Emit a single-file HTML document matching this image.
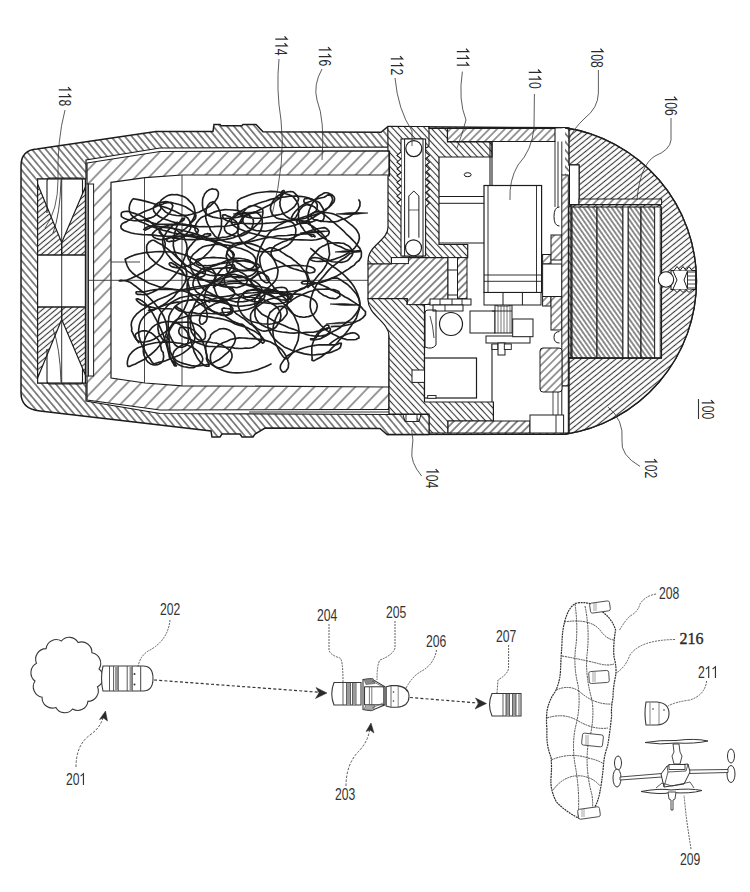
<!DOCTYPE html>
<html><head><meta charset="utf-8"><style>html,body{margin:0;padding:0;background:#fff;overflow:hidden;}svg{display:block;font-family:"Liberation Sans",sans-serif;}</style></head>
<body><svg width="750" height="892" viewBox="0 0 750 892"><defs><pattern id="hB" width="5.3" height="5.3" patternUnits="userSpaceOnUse" patternTransform="rotate(-40)"><rect width="5.3" height="5.3" fill="#fff"/><line x1="2.65" y1="0" x2="2.65" y2="5.3" stroke="#353535" stroke-width="1.15"/></pattern><pattern id="hBb" width="4.7" height="4.7" patternUnits="userSpaceOnUse" patternTransform="rotate(-43)"><rect width="4.7" height="4.7" fill="#fff"/><line x1="2.35" y1="0" x2="2.35" y2="4.7" stroke="#353535" stroke-width="1.1"/></pattern><pattern id="hBc" width="3.8" height="3.8" patternUnits="userSpaceOnUse" patternTransform="rotate(-35)"><rect width="3.8" height="3.8" fill="#fff"/><line x1="1.9" y1="0" x2="1.9" y2="3.8" stroke="#333" stroke-width="1.1"/></pattern><pattern id="hF" width="4.4" height="4.4" patternUnits="userSpaceOnUse" patternTransform="rotate(51)"><rect width="4.4" height="4.4" fill="#fff"/><line x1="2.2" y1="0" x2="2.2" y2="4.4" stroke="#383838" stroke-width="1.1"/></pattern><pattern id="hFn" width="4.3" height="4.3" patternUnits="userSpaceOnUse" patternTransform="rotate(50)"><rect width="4.3" height="4.3" fill="#fff"/><line x1="2.15" y1="0" x2="2.15" y2="4.3" stroke="#353535" stroke-width="1.1"/></pattern><pattern id="hFs" width="5.6" height="5.6" patternUnits="userSpaceOnUse" patternTransform="rotate(45)"><rect width="5.6" height="5.6" fill="#fff"/><line x1="2.8" y1="0" x2="2.8" y2="5.6" stroke="#353535" stroke-width="1.15"/></pattern><pattern id="hFw" width="9.8" height="9.8" patternUnits="userSpaceOnUse" patternTransform="rotate(44)"><rect width="9.8" height="9.8" fill="#fff"/><line x1="4.9" y1="0" x2="4.9" y2="9.8" stroke="#353535" stroke-width="1.0"/></pattern><pattern id="hFt" width="5.5" height="5.5" patternUnits="userSpaceOnUse" patternTransform="rotate(45)"><rect width="5.5" height="5.5" fill="#fff"/><line x1="2.75" y1="0" x2="2.75" y2="5.5" stroke="#3a3a3a" stroke-width="1.0"/></pattern></defs><rect width="750" height="892" fill="#fff"/><path d="M21,166 Q21,150 37,149 L156,131.5 L213,131.5 L214,124.4 L220,124.4 L221,125.8 L242,125.8 L243,124.4 L256,124.4 L263,131.8 L381,132.3 L388,126.5 L565,127.8 A155,155 0 0 1 565,434.2 L387,434.5 L380,428.5 L265,428 L255,434 L253,437 L242,437 L240,434 L222,434 L220,437 L212,437 L211,431 L40,411 Q21,409 21,393 Z" fill="url(#hB)" stroke="#1c1c1c" stroke-width="1.5" />
<path d="M37.6,179 L86,179 L86,160 L160,148 L390,147 L390,414.5 L160,413.5 L86,401 L86,383 L37.6,383 Z" fill="#fff" stroke="#1c1c1c" stroke-width="1.2" />
<path d="M87,163 L160,151.5 L389,150.8 L389,409.4 L160,410 L87,400 Z" fill="url(#hFw)" stroke="#1c1c1c" stroke-width="1.2" />
<line x1="249" y1="412" x2="389" y2="412" stroke="#1c1c1c" stroke-width="0.9" />
<path d="M111,182.3 L145,177.7 L182,175 L389,175 L389,387 L182,385.8 L145,383 L111,378 Z" fill="#fff" stroke="#1c1c1c" stroke-width="1.2" />
<rect x="85.4" y="184" width="3" height="192" fill="#8c8c8c" stroke="#1c1c1c" stroke-width="0.8" />
<rect x="88.4" y="184" width="5.2" height="192" fill="#fff" stroke="#1c1c1c" stroke-width="1" />
<rect x="37.6" y="179" width="47.8" height="204" fill="#fff" stroke="#1c1c1c" stroke-width="1.2" />
<path d="M37.6,184 L61.7,242.5 L61.7,255 L37.6,255 Z" fill="url(#hFn)" stroke="#1c1c1c" stroke-width="1.2" />
<path d="M85.4,187 L61.7,242.5 L61.7,255 L85.4,255 Z" fill="url(#hFn)" stroke="#1c1c1c" stroke-width="1.2" />
<path d="M37.6,378 L61.7,319.5 L61.7,307 L37.6,307 Z" fill="url(#hFn)" stroke="#1c1c1c" stroke-width="1.2" />
<path d="M85.4,375 L61.7,319.5 L61.7,307 L85.4,307 Z" fill="url(#hFn)" stroke="#1c1c1c" stroke-width="1.2" />
<path d="M47,213 L47,181 Q47,178 50,178 L81,178 Q82.5,178 82.5,182 L82.5,194" fill="none" stroke="#1c1c1c" stroke-width="1.1" />
<path d="M47,349 L47,381 Q47,384 50,384 L81,384 Q82.5,384 82.5,380 L82.5,368" fill="none" stroke="#1c1c1c" stroke-width="1.1" />
<path d="M61,180 Q60,215 53,233" fill="none" stroke="#1c1c1c" stroke-width="0.8" />
<path d="M61,382 Q60,347 53,329" fill="none" stroke="#1c1c1c" stroke-width="0.8" />
<line x1="61.7" y1="179" x2="61.7" y2="383" stroke="#1c1c1c" stroke-width="0.9" />
<line x1="37.6" y1="255" x2="85.4" y2="255" stroke="#1c1c1c" stroke-width="1.2" />
<line x1="37.6" y1="307" x2="85.4" y2="307" stroke="#1c1c1c" stroke-width="1.2" />
<line x1="144.5" y1="177.8" x2="144.5" y2="383" stroke="#333" stroke-width="0.9" />
<line x1="182" y1="175" x2="182" y2="385.8" stroke="#333" stroke-width="0.9" />
<line x1="89" y1="280.3" x2="370" y2="280.3" stroke="#333" stroke-width="0.9" />
<line x1="111" y1="262" x2="140" y2="262" stroke="#333" stroke-width="0.9" />
<path d="M147.8,310.3 L149.7,310.6 L151.3,309.9 L153.5,309.9 L155.4,309.0 L157.4,308.1 L159.4,306.9 L161.5,305.8 L163.4,304.8 L165.7,303.3 L167.9,301.4 L170.0,299.7 L172.1,298.3 L174.2,296.4 L176.3,293.6 L178.0,291.8 L179.7,289.8 L181.6,288.3 L183.3,285.3 L185.1,282.3 L186.3,277.9 L186.8,274.5 L186.1,270.0 L184.4,265.0 L181.4,261.6 L177.9,258.3 L174.2,254.6 L170.5,251.4 L166.9,248.4 L162.8,245.3 L158.4,243.0 L154.3,240.5 L153.5,240.2 L152.9,240.2 L152.4,240.2 L151.6,240.5 L150.8,240.9 L150.3,241.1 L149.9,241.7 L148.6,242.3 L148.2,243.2 L147.3,244.4 L146.7,246.0 L146.6,247.1 L146.7,249.4 L146.8,252.1 L148.0,254.4 L149.8,257.5 L153.5,260.9 L156.5,263.6 L160.5,266.1 L165.0,268.5 L169.6,270.0 L173.8,271.5 L178.8,273.4 L183.4,274.9 L188.3,276.5 L193.4,277.6 L198.2,278.9 L203.1,280.0 L207.7,280.6 L212.7,280.9 L217.3,281.8 L222.1,282.2 L227.1,282.0 L232.2,281.4 L236.7,281.4 L241.3,280.6 L245.0,280.4 L248.7,279.8 L252.3,278.2 L254.9,276.5 L257.1,273.9 L257.8,272.0 L257.6,269.8 L257.6,268.7 L256.5,267.2 L255.3,265.4 L254.4,264.1 L253.4,263.6 L252.3,262.6 L250.8,261.5 L249.3,260.5 L247.9,259.9 L246.1,259.5 L244.5,259.0 L242.6,258.8 L241.0,258.5 L238.9,258.2 L237.2,258.3 L235.4,258.4 L234.0,258.5 L232.1,259.1 L229.9,260.4 L228.4,261.3 L227.3,263.2 L226.4,265.1 L226.4,268.4 L227.3,271.6 L229.7,274.3 L232.6,277.2 L235.4,278.6 L238.5,281.4 L242.2,283.2 L245.9,284.8 L249.6,285.9 L253.1,287.0 L256.7,288.0 L260.0,289.2 L263.9,290.5 L267.7,290.6 L271.2,291.4 L274.7,291.4 L278.1,291.7 L281.7,291.7 L285.0,292.1 L288.8,291.5 L291.8,291.5 L295.6,290.8 L298.6,290.4 L301.1,289.4 L304.7,287.9 L306.9,285.9 L307.9,282.9 L307.7,280.3 L307.2,276.7 L306.2,274.2 L304.9,271.6 L303.3,269.8 L301.5,267.5 L299.8,265.0 L297.7,263.3 L295.9,261.6 L294.0,260.3 L291.8,258.3 L289.7,257.0 L287.6,256.0 L285.6,254.7 L283.7,253.4 L281.6,252.1 L279.7,250.5 L277.4,249.7 L275.6,249.0 L273.8,248.4 L272.0,247.7 L269.3,247.9 L265.2,250.1 L262.5,252.8 L259.9,257.2 L259.8,261.0 L260.4,265.0 L261.4,268.3 L263.1,271.2 L264.2,273.7 L265.6,276.2 L266.8,278.5 L268.2,280.7 L270.0,282.7 L271.3,284.6 L273.0,286.2 L274.4,288.2 L276.0,290.0 L277.7,291.4 L278.9,293.4 L280.8,294.9 L282.4,296.2 L284.2,297.7 L285.6,298.9 L287.0,299.8 L288.0,301.4 L289.6,301.9 L291.4,300.9 L291.0,300.1 L290.4,299.0 L288.6,296.5 L285.3,295.0 L281.6,293.9 L278.5,293.2 L274.6,293.2 L270.5,292.9 L266.2,292.4 L261.9,292.2 L257.5,292.4 L253.0,292.8 L248.1,293.0 L243.4,293.5 L238.9,294.2 L234.5,294.7 L229.5,295.9 L225.2,296.5 L220.7,297.1 L216.4,298.0 L211.9,299.5 L207.4,300.7 L203.3,303.1 L199.1,304.5 L194.8,307.1 L191.4,310.5 L189.2,314.0 L188.0,318.2 L188.1,322.6 L188.0,325.5 L188.2,328.2 L188.3,331.7 L189.0,335.2 L190.1,338.0 L190.8,340.8 L191.6,343.6 L192.6,345.9 L193.4,348.5 L194.0,351.5 L195.3,354.0 L196.5,356.4 L197.6,358.6 L199.2,360.6 L200.5,362.3 L201.9,363.3 L203.6,364.8 L204.8,365.8 L206.4,366.1 L208.0,366.2 L209.0,366.1 L208.9,365.0 L208.3,362.7 L207.3,361.3 L206.5,359.1 L206.7,355.9 L206.3,352.7 L205.7,350.2 L204.9,347.2 L204.0,344.9 L202.9,342.2 L201.8,340.0 L200.6,337.9 L199.3,336.2 L198.1,334.9 L196.4,333.2 L195.3,331.8 L193.8,330.4 L192.1,329.4 L190.5,328.7 L188.9,327.7 L187.1,327.8 L185.3,327.4 L183.9,327.2 L181.8,327.4 L180.3,327.2 L179.5,328.7 L178.7,330.8 L179.2,333.5 L181.0,335.7 L184.1,337.4 L187.4,338.4 L190.8,339.4 L194.1,341.2 L197.7,343.0 L201.3,344.2 L204.9,345.6 L208.8,346.5 L212.8,346.5 L216.6,346.7 L220.4,346.8 L224.4,347.2 L228.0,347.2 L231.5,347.4 L234.7,348.1 L238.4,348.4 L242.3,348.5 L245.7,348.0 L249.1,348.3 L252.5,347.5 L255.8,345.6 L259.2,343.2 L261.1,340.9 L261.4,338.2 L260.3,334.7 L259.2,332.5 L257.4,330.7 L255.8,328.5 L254.1,326.8 L252.2,324.9 L250.0,323.9 L248.0,322.0 L246.0,320.3 L244.3,318.9 L242.5,317.7 L240.6,316.6 L238.6,315.1 L236.3,313.8 L234.9,312.3 L233.3,311.1 L231.3,310.0 L229.5,308.7 L227.1,308.5 L225.2,308.2 L223.8,307.9 L222.0,309.0 L222.4,311.5 L224.0,314.5 L226.3,316.9 L229.1,318.8 L232.4,320.9 L235.9,322.4 L239.2,323.7 L242.5,324.4 L244.7,326.1 L246.0,328.4 L247.3,330.1 L248.9,331.4 L250.1,333.2 L252.1,334.4 L253.8,336.2 L255.3,337.7 L257.1,339.1 L258.6,340.1 L260.0,341.4 L261.5,342.0 L262.5,343.1 L263.7,342.7 L264.6,340.6 L263.1,338.5 L260.8,335.8 L257.6,333.4 L254.1,330.9 L250.2,329.2 L247.0,327.6 L243.2,326.4 L238.9,325.3 L235.1,323.9 L231.5,322.1 L227.5,320.5 L223.4,319.2 L219.1,318.4 L214.5,317.8 L210.0,316.9 L205.0,316.4 L200.6,315.4 L196.4,315.2 L191.7,315.8 L186.2,316.5 L180.9,318.2 L176.6,319.5 L173.1,322.6 L171.0,326.4 L169.7,329.3 L168.9,332.4 L169.0,335.8 L169.1,338.8 L169.1,341.5 L169.3,344.1 L169.5,346.5 L169.9,348.9 L169.7,351.2 L169.7,353.5 L170.0,355.7 L170.2,357.6 L171.0,359.1 L171.7,360.8 L172.5,362.3 L173.5,363.7 L174.2,365.4 L174.8,365.9 L175.9,366.0 L176.5,365.7 L176.0,365.0 L174.4,362.5 L171.7,360.2 L169.5,357.6 L168.5,352.7 L167.4,348.2 L166.0,343.3 L164.7,339.0 L163.3,334.9 L161.4,330.4 L159.7,326.7 L157.9,322.9 L156.2,319.7 L154.5,316.6 L152.9,313.6 L151.1,310.9 L149.1,308.1 L147.1,305.6 L145.1,303.2 L142.6,301.3 L140.6,300.1 L138.1,298.9 L137.1,298.8 L136.1,299.2 L137.1,300.9 L138.6,302.1 L140.4,303.5 L142.3,304.7 L144.7,305.4 L147.6,306.6 L150.1,306.9 L153.2,307.6 L156.2,308.3 L159.3,308.4 L162.4,308.8 L165.6,308.7 L168.6,308.7 L172.0,309.0 L172.0,309.0" fill="none" stroke="#1e1e1e" stroke-width="1.65" stroke-linejoin="round"/>
<path d="M309.8,221.2 L305.0,221.3 L300.1,221.0 L294.7,219.8 L290.1,218.8 L286.3,216.5 L283.3,213.8 L281.8,210.7 L280.8,208.0 L280.0,205.7 L280.1,203.9 L279.8,202.0 L280.3,200.7 L280.5,199.2 L280.6,197.5 L280.7,196.2 L280.7,195.0 L281.3,193.6 L281.8,192.5 L281.7,191.6 L282.3,191.4 L282.6,190.8 L283.7,190.5 L284.2,190.9 L284.1,192.7 L282.5,195.0 L280.3,197.6 L276.8,200.0 L273.1,202.9 L269.0,205.2 L264.8,207.2 L260.4,209.4 L256.3,211.5 L251.8,213.1 L247.0,214.5 L242.5,216.1 L238.1,217.1 L233.0,217.9 L228.2,218.3 L223.6,218.6 L218.1,218.0 L213.0,217.1 L208.2,215.4 L205.1,212.3 L203.0,209.3 L202.5,205.1 L202.5,202.4 L202.6,199.9 L203.0,197.8 L203.9,196.0 L204.6,194.0 L205.7,192.7 L207.0,191.2 L208.3,190.4 L209.4,189.6 L210.9,189.2 L212.2,188.7 L213.8,189.2 L215.7,189.3 L217.0,190.2 L218.3,192.1 L218.4,194.6 L217.5,197.8 L215.2,201.1 L212.4,203.8 L209.5,206.6 L206.1,208.4 L202.6,210.2 L199.3,212.0 L195.3,213.2 L191.6,214.2 L187.8,215.1 L183.9,215.4 L180.0,215.8 L176.5,215.5 L172.1,214.7 L168.7,213.7 L165.4,211.9 L162.9,209.3 L160.5,206.6 L159.4,204.4 L160.2,201.9 L161.2,200.2 L163.1,198.7 L164.7,197.4 L166.8,196.1 L169.4,195.1 L171.9,194.5 L174.2,194.8 L177.0,194.6 L179.3,195.2 L182.3,196.1 L185.0,197.2 L187.6,199.1 L189.7,201.4 L192.3,203.8 L193.8,206.4 L194.6,209.4 L195.1,212.9 L194.3,216.7 L192.8,219.8 L190.9,222.6 L188.0,226.3 L185.4,228.6 L182.6,230.6 L179.8,232.9 L177.1,234.6 L174.1,236.1 L171.0,237.3 L168.0,238.1 L165.2,239.1 L162.4,239.7 L159.2,239.4 L156.1,238.5 L154.0,237.5 L152.9,236.4 L152.1,234.8 L152.6,233.4 L153.9,232.1 L155.3,230.7 L157.0,229.5 L158.9,228.3 L160.8,227.5 L162.9,226.9 L165.3,226.7 L168.2,227.0 L171.0,227.6 L173.9,228.7 L176.9,230.3 L179.2,232.2 L181.9,234.4 L183.9,236.9 L185.2,240.6 L186.5,243.8 L187.1,248.1 L186.3,252.7 L184.8,257.1 L182.9,261.6 L181.0,265.8 L178.8,269.9 L176.1,273.6 L173.2,276.9 L170.0,280.2 L166.7,283.2 L163.6,286.1 L159.8,288.6 L156.0,290.6 L152.4,292.3 L149.3,293.6 L145.9,294.5 L143.1,294.7 L140.1,294.2 L137.9,294.4 L136.3,293.7 L136.0,292.5 L136.3,291.8 L136.6,291.7 L138.3,291.7 L140.0,291.5 L141.4,292.0 L144.2,291.9 L148.7,290.7 L154.0,289.8 L159.1,289.3 L164.3,289.4 L169.7,289.3 L174.4,289.6 L179.6,290.2 L185.2,291.5 L189.9,293.3 L195.0,295.7 L198.6,298.3 L201.8,301.4 L204.0,304.5 L205.1,308.1 L206.4,310.8 L207.0,313.4 L207.2,316.3 L207.0,318.3 L206.8,319.3 L206.5,320.2 L206.0,321.3 L205.0,322.3 L204.1,322.9 L203.2,323.8 L202.5,324.1 L201.8,324.2 L200.7,324.0 L200.1,323.2 L199.8,321.9 L199.4,320.2 L199.9,317.6 L200.3,315.4 L202.1,312.7 L204.6,310.4 L207.7,307.6 L211.2,305.7 L215.4,303.4 L219.8,302.1 L224.3,300.9 L228.7,299.6 L232.8,298.7 L237.0,298.1 L241.0,297.5 L245.1,297.0 L250.0,297.3 L254.6,297.7 L258.8,298.3 L263.3,299.4 L267.1,300.9 L270.7,303.1 L274.2,305.1 L277.3,307.3 L279.2,310.4 L280.5,313.1 L280.9,316.0 L280.4,318.5 L279.6,321.0 L278.6,323.2 L277.3,325.0 L276.0,327.0 L274.1,328.5 L272.4,329.5 L270.6,330.1 L268.4,330.4 L266.2,330.9 L263.9,331.1 L262.0,330.7 L260.1,330.0 L258.3,329.2 L256.4,327.8 L254.8,326.3 L252.9,324.9 L251.5,323.1 L250.7,320.4 L250.5,317.0 L250.7,314.1 L252.6,310.9 L255.3,307.8 L258.1,306.1 L261.2,303.9 L264.1,301.8 L267.8,299.8 L271.2,298.8 L274.8,297.9 L278.0,296.9 L281.4,296.1 L285.1,295.5 L288.6,294.9 L292.3,294.2 L296.3,294.0 L300.3,294.3 L303.9,295.5 L307.3,296.6 L310.2,297.7 L312.9,299.0 L315.4,301.1 L316.8,303.6 L317.3,306.3 L316.7,308.7 L316.3,310.4 L315.2,312.3 L313.5,314.4 L312.4,315.3 L310.5,315.9 L308.5,316.6 L306.8,316.8 L305.1,317.1 L302.8,317.2 L301.1,316.8 L299.4,316.8 L297.7,316.3 L295.6,315.4 L293.6,314.2 L291.5,312.5 L290.1,310.9 L287.9,308.6 L287.0,306.0 L287.2,302.8 L287.9,299.4 L290.4,296.9 L292.7,294.3 L296.2,291.7 L300.1,289.1 L303.9,287.7 L307.9,286.1 L312.1,284.6 L316.2,283.3 L320.7,282.1 L324.9,280.6 L329.0,279.3 L333.3,277.9 L337.2,278.1 L340.8,279.9 L344.1,282.2 L347.6,284.5 L350.5,287.3 L353.3,290.5 L356.4,294.0 L358.8,298.6 L359.8,303.4 L359.5,308.4 L357.8,313.4 L356.3,318.3 L353.4,322.4 L350.9,326.2 L348.3,329.9 L345.9,333.0 L342.9,336.5 L340.0,339.3 L337.4,342.6 L334.5,345.7 L331.8,348.1 L329.3,351.1 L326.2,352.9 L323.5,355.0 L321.0,357.1 L318.7,358.3 L316.1,359.6 L314.3,360.6 L312.8,360.6 L311.8,360.0 L312.2,358.7 L311.8,353.9 L311.8,349.8 L311.9,346.2 L312.7,343.5 L313.6,341.0 L314.6,338.5 L315.7,336.1 L317.1,334.0 L318.8,331.9 L320.2,329.9 L321.9,329.0 L323.3,327.8 L324.2,326.7 L325.5,325.6 L326.6,325.1 L327.7,325.0 L328.4,325.4 L328.9,325.8 L328.9,327.2 L327.4,329.1 L324.1,329.8 L320.5,330.7 L317.1,331.4 L313.4,332.2 L310.0,332.3 L306.2,332.4 L302.1,332.7 L298.1,332.7 L294.1,333.1 L290.0,333.0 L286.1,332.4 L282.0,332.0 L277.5,331.2 L273.9,330.3 L269.9,328.2 L266.3,327.2 L262.9,325.6 L259.2,323.3 L256.7,320.1 L255.1,316.1 L254.9,311.7 L255.2,308.4 L256.4,305.3 L257.8,302.8 L259.3,300.2 L260.8,297.6 L262.2,296.2 L264.6,294.5 L266.4,292.8 L268.3,291.4 L270.9,290.4 L273.0,289.5 L274.8,288.4 L277.0,287.8 L279.3,287.5 L281.7,287.2 L283.8,287.5 L285.8,288.3 L286.9,289.6 L287.6,291.6 L287.0,294.5 L286.3,295.5" fill="none" stroke="#1e1e1e" stroke-width="1.65" stroke-linejoin="round"/>
<path d="M165.9,336.5 L167.8,338.2 L169.2,339.9 L169.4,340.7 L169.1,341.8 L168.3,342.5 L167.2,342.6 L166.4,341.8 L164.9,341.3 L163.8,340.5 L162.9,339.5 L161.9,338.4 L161.0,336.7 L160.0,335.2 L158.8,333.3 L158.4,330.8 L157.9,328.7 L158.1,325.4 L158.2,322.5 L158.7,318.8 L159.8,315.1 L162.1,311.8 L164.9,308.7 L167.9,305.3 L171.0,302.6 L175.1,300.2 L180.1,297.8 L184.5,296.8 L189.5,296.0 L194.0,295.3 L198.4,294.5 L202.6,295.0 L207.1,294.7 L211.0,295.6 L214.6,296.5 L217.9,297.5 L220.8,298.2 L223.7,299.7 L226.7,301.6 L229.0,304.1 L230.3,306.2 L231.1,308.9 L230.9,311.0 L230.4,312.3 L229.1,313.5 L227.2,314.8 L225.3,315.4 L223.5,315.5 L221.7,315.1 L219.9,314.7 L218.1,313.9 L216.2,313.4 L214.2,312.2 L212.3,311.2 L210.2,309.1 L208.7,307.8 L207.3,306.1 L205.9,304.5 L204.7,301.4 L204.2,298.5 L204.5,295.4 L205.7,291.8 L207.3,288.4 L209.7,285.4 L212.5,283.1 L216.2,280.8 L219.3,279.5 L223.1,278.1 L226.9,277.2 L230.5,276.5 L233.9,276.7 L237.3,276.7 L241.1,277.0 L244.5,277.5 L247.9,278.8 L251.1,279.7 L254.5,281.3 L257.3,283.1 L259.7,285.2 L261.6,288.2 L261.4,289.9 L260.7,292.7 L259.0,294.9 L257.1,297.2 L254.5,298.9 L251.0,300.1 L246.6,301.1 L243.2,301.6 L239.4,301.8 L235.2,301.8 L231.5,300.7 L227.9,299.6 L224.1,298.7 L220.7,297.2 L217.1,296.3 L213.2,294.7 L209.5,292.7 L206.2,291.2 L202.8,288.5 L200.2,285.4 L198.7,282.5 L197.8,279.7 L197.5,276.9 L198.1,274.3 L198.7,272.1 L200.0,270.8 L201.7,269.2 L203.3,268.0 L204.5,267.9 L206.0,267.7 L207.5,267.7 L208.9,268.0 L210.4,268.7 L211.6,269.1 L212.6,269.9 L213.4,270.8 L214.6,272.4 L215.3,274.1 L215.4,276.0 L214.6,278.7 L212.8,281.4 L210.3,283.8 L207.0,285.9 L202.6,287.5 L197.7,288.5 L193.1,289.3 L188.3,290.0 L183.3,290.0 L178.1,289.7 L173.3,289.3 L168.2,288.6 L163.3,288.0 L158.4,286.6 L153.5,284.8 L149.0,283.2 L144.7,280.8 L140.3,278.3 L136.2,276.0 L132.5,273.0 L129.3,269.6 L127.2,265.8 L125.9,262.1 L125.1,259.3 L129.9,256.7 L134.6,254.9 L139.6,253.7 L145.2,252.6 L150.5,252.2 L155.4,251.8 L160.4,251.6 L165.7,251.7 L170.9,252.0 L175.5,252.4 L179.6,253.4 L184.1,254.7 L188.3,256.2 L192.4,258.5 L196.1,260.5 L199.5,263.3 L203.0,266.2 L204.7,268.3 L205.2,270.4 L205.3,272.5 L205.0,274.2 L204.7,275.1 L203.6,276.0 L201.6,276.9 L199.9,277.3 L198.6,277.2 L197.3,276.7 L196.1,275.5 L194.5,274.7 L193.7,273.5 L192.7,272.1 L191.5,270.1 L190.8,267.8 L190.5,265.4 L190.3,262.9 L190.1,259.8 L191.3,256.9 L193.5,254.1 L196.6,251.7 L199.3,249.1 L203.0,246.8 L206.7,245.7 L210.7,245.1 L214.7,244.4 L218.4,244.2 L222.2,244.5 L226.2,245.1 L230.1,245.6 L234.0,246.5 L237.4,247.7 L241.1,248.5 L244.0,249.7 L247.3,251.0 L250.1,252.6 L252.9,254.7 L255.1,257.7 L255.9,260.6 L255.5,262.9 L254.5,265.4 L253.4,267.0 L252.1,268.1 L250.1,269.0 L247.8,270.1 L245.2,270.7 L242.9,270.6 L240.6,270.3 L238.3,269.7 L236.2,268.5 L234.3,267.9 L232.4,266.5 L230.9,264.8 L229.0,263.0 L227.5,260.5 L227.1,258.6 L226.1,256.2 L226.8,253.3 L227.8,250.2 L229.3,247.1 L232.5,244.9 L236.0,243.2 L239.0,242.5 L241.8,242.2 L245.1,242.7 L248.0,243.3 L251.4,243.9 L254.7,244.9 L258.1,246.1 L261.2,248.0 L264.1,250.0 L266.7,252.0 L269.4,254.4 L272.0,257.1 L274.1,260.1 L275.8,263.4 L277.0,266.8 L278.1,270.2 L277.6,274.1 L276.9,277.6 L275.3,280.7 L273.0,283.4 L270.5,285.7 L268.2,287.8 L265.5,289.6 L263.4,291.4 L261.2,292.9 L258.9,294.0 L256.6,294.6 L254.1,295.1 L251.7,295.5 L249.7,296.2 L247.5,296.8 L245.5,296.7 L243.8,296.2 L243.3,295.4 L243.3,293.7 L243.7,292.6 L245.5,291.9 L247.8,291.0 L250.4,290.5 L253.6,290.0 L256.6,290.2 L259.9,290.5 L263.4,291.5 L267.1,292.7 L270.7,294.7 L274.0,296.6 L277.8,298.9 L281.2,301.6 L284.4,304.3 L288.0,307.2 L291.3,311.2 L293.9,315.2 L295.8,319.5 L298.1,324.8 L298.9,330.2 L298.8,334.8 L298.2,339.9 L296.6,344.1 L295.0,347.4 L293.6,350.9 L291.8,353.8 L289.6,356.3 L287.5,358.7 L285.4,358.6 L283.3,356.8 L281.5,354.4 L280.0,352.2 L278.5,349.5 L277.0,346.2 L275.4,343.3 L274.4,339.8 L273.3,336.0 L272.9,331.7 L273.2,326.8 L274.3,322.1 L276.1,317.5 L278.4,312.9 L281.7,308.8 L285.7,305.4 L289.3,302.0 L293.1,299.4 L296.7,297.1 L300.8,295.3 L304.8,293.4 L308.9,291.7 L312.7,290.8 L316.6,289.4 L320.5,289.2 L324.3,289.3 L327.4,288.9 L330.7,289.4 L333.7,289.6 L336.5,290.6 L338.8,291.6 L339.5,293.0 L339.9,295.1 L339.9,296.2 L338.9,296.8 L337.9,297.5 L336.5,298.5 L334.8,298.7 L332.6,298.4 L330.6,298.3 L328.4,297.4 L326.2,296.3 L323.8,295.5 L321.5,293.9 L319.5,292.6 L317.6,290.5 L315.4,288.7 L313.5,287.0 L311.3,283.8 L309.4,280.6 L308.3,277.2 L307.1,273.7 L306.3,270.1 L307.0,266.3 L308.1,262.6 L309.6,258.9 L312.1,255.8 L315.1,252.9 L317.0,250.6 L319.5,248.1 L322.0,246.6 L324.6,245.5 L327.2,244.0 L330.4,243.3 L333.1,243.0 L336.0,242.8 L338.9,242.9 L341.3,243.2 L343.6,243.2 L345.6,244.5 L347.7,245.5 L349.4,246.6 L351.3,249.0 L352.4,251.6 L352.7,253.8 L351.8,255.9 L350.6,257.3 L349.1,259.1 L347.2,260.8 L344.4,261.7 L341.6,262.4 L338.6,262.3 L335.6,262.0 L332.2,261.7 L329.0,260.6 L325.9,259.1 L322.9,258.0 L320.2,256.2 L317.1,253.8 L314.3,251.5 L311.5,249.1 L310.2,248.3" fill="none" stroke="#1e1e1e" stroke-width="1.65" stroke-linejoin="round"/>
<path d="M271.6,363.6 L268.5,365.3 L265.2,366.8 L261.9,368.1 L258.0,369.6 L253.9,370.8 L250.0,371.7 L245.6,372.3 L241.1,372.8 L237.1,372.9 L232.6,372.7 L228.5,372.1 L224.3,371.0 L221.1,369.7 L217.2,368.1 L214.3,366.0 L210.8,363.3 L208.9,360.6 L207.3,358.7 L206.8,355.1 L206.0,352.4 L205.6,349.4 L205.9,346.5 L206.1,343.9 L207.5,341.5 L209.1,339.0 L210.2,337.3 L210.6,335.1 L212.1,333.5 L214.0,332.1 L216.0,331.1 L217.7,330.1 L219.2,329.1 L221.5,328.7 L223.5,328.6 L225.7,328.9 L228.3,329.8 L230.8,331.1 L233.0,332.8 L234.3,334.5 L235.0,336.8 L235.5,339.3 L234.7,342.4 L233.5,344.8 L231.8,347.1 L229.7,350.4 L227.6,352.7 L224.9,354.9 L222.3,357.1 L219.3,359.5 L215.9,361.3 L212.8,363.0 L209.1,364.2 L205.6,364.9 L202.0,365.4 L198.6,366.0 L195.1,366.1 L191.3,365.6 L187.3,364.5 L183.8,363.6 L179.8,362.3 L176.1,360.4 L173.8,357.7 L171.5,354.2 L169.9,350.8 L168.1,347.8 L167.3,344.9 L166.7,342.1 L167.0,339.8 L167.6,336.9 L167.9,334.8 L168.6,332.6 L169.5,330.4 L170.6,328.6 L171.5,327.1 L172.6,325.6 L173.5,324.1 L174.8,323.3 L176.6,322.5 L178.1,322.4 L180.7,322.4 L184.0,322.2 L187.4,322.1 L190.3,322.6 L193.8,323.3 L197.4,324.7 L199.8,326.2 L201.9,328.3 L203.6,329.8 L204.9,331.8 L205.4,334.0 L205.4,335.5 L205.4,336.6 L205.0,337.8 L204.5,338.9 L203.4,339.5 L202.3,340.3 L200.9,340.1 L198.8,340.0 L196.9,338.9 L195.8,337.7 L194.1,336.0 L192.7,333.7 L191.3,331.7 L190.8,328.3 L190.4,325.0 L190.4,321.6 L190.7,317.6 L191.6,313.4 L192.9,308.9 L194.5,304.5 L197.0,300.1 L199.8,295.8 L202.7,291.8 L206.3,287.6 L210.0,284.4 L214.3,281.7 L218.1,278.9 L222.5,276.1 L227.3,274.0 L231.5,272.4 L236.1,271.2 L240.4,270.5 L244.7,270.3 L249.2,270.3 L252.8,270.6 L256.4,271.0 L259.5,271.7 L262.5,273.1 L264.3,274.3 L266.5,275.7 L267.8,276.6 L268.4,277.6 L269.0,279.1 L269.1,280.5 L268.6,282.1 L268.2,282.5 L267.5,282.7 L266.5,282.8 L265.1,282.3 L263.8,281.3 L262.3,280.3 L260.6,278.6 L260.0,276.8 L258.6,274.3 L257.3,271.2 L256.5,267.3 L256.4,264.0 L256.9,260.0 L257.6,256.5 L258.8,252.3 L260.3,247.8 L262.5,243.5 L264.5,239.5 L267.2,235.7 L270.0,232.1 L273.1,229.4 L276.6,226.6 L280.2,224.4 L284.1,222.4 L286.7,221.4 L288.4,221.3 L290.1,221.6 L291.9,222.3 L293.3,223.2 L294.3,224.6 L294.9,226.8 L295.8,228.8 L295.8,231.3 L295.5,233.9 L294.9,236.1 L293.8,238.7 L291.9,241.4 L289.5,243.8 L286.9,245.8 L283.7,247.5 L280.2,249.2 L276.6,250.5 L273.0,251.0 L269.4,251.7 L265.7,251.6 L262.0,251.6 L258.3,251.2 L254.6,250.2 L250.7,248.3 L247.1,246.3 L244.4,243.9 L242.0,241.5 L239.9,238.4 L238.5,235.6 L237.9,232.4 L237.7,229.2 L238.1,225.9 L239.3,223.0 L240.5,220.8 L242.1,218.6 L244.3,217.0 L246.6,215.6 L248.7,214.4 L250.3,213.3 L252.0,212.7 L254.1,212.4 L256.6,212.8 L258.2,213.6 L260.0,215.1 L261.2,217.3 L262.1,219.4 L262.2,222.3 L262.3,224.9 L261.6,227.9 L260.5,230.9 L258.7,233.7 L256.5,235.9 L254.1,237.7 L251.7,238.9 L248.4,240.7 L245.3,242.1 L241.5,243.1 L237.1,243.3 L233.2,243.2 L229.7,242.4 L225.7,241.7 L221.8,240.4 L218.0,238.4 L215.2,236.4 L212.7,233.1 L210.5,230.3 L209.5,227.0 L207.7,224.1 L206.6,221.4 L205.8,218.3 L205.6,215.0 L205.9,212.2 L206.3,209.3 L206.9,207.1 L207.8,205.5 L209.0,204.0 L210.1,202.8 L211.9,202.2 L213.0,201.7 L214.7,202.7 L216.9,205.4 L218.5,208.5 L220.2,212.1 L220.6,216.4 L221.6,220.4 L221.4,224.3 L221.3,228.6 L219.6,233.5 L218.2,237.3 L216.2,242.0 L213.6,246.1 L210.5,250.2 L207.2,253.7 L203.9,256.8 L199.9,260.1 L195.7,262.6 L192.2,264.3 L188.0,265.8 L183.9,266.8 L180.5,267.5 L177.6,267.9 L174.7,267.4 L172.5,266.9 L170.7,266.1 L169.9,265.1 L169.3,264.4 L169.2,263.6 L169.5,263.3 L170.2,262.7 L171.3,262.8 L172.7,263.5 L174.3,264.5 L176.4,265.6 L177.9,267.0 L179.6,268.8 L181.9,270.8 L183.6,273.5 L185.8,276.3 L187.1,279.7 L188.3,283.6 L189.3,287.8 L188.8,292.5 L188.3,297.6 L187.4,302.1 L185.3,306.6 L183.2,311.5 L180.6,315.0 L177.8,319.0 L174.9,322.6 L171.8,325.6 L168.5,329.1 L165.2,332.1 L161.2,334.6 L157.4,337.0 L153.9,339.2 L149.7,340.9 L146.1,341.8 L142.8,342.2 L139.7,341.8 L137.3,340.4 L135.8,338.6 L135.8,337.0 L135.1,335.5 L135.6,334.2 L137.2,333.0 L138.1,332.4 L139.5,331.9 L141.1,331.2 L142.4,330.8 L144.4,330.8 L146.4,330.9 L148.8,331.9 L150.9,332.8 L152.8,334.1 L154.4,335.6 L156.6,337.7 L158.5,340.1 L160.0,343.0 L160.9,347.0 L161.4,350.2 L163.2,352.5 L163.4,354.8 L163.7,356.4 L163.4,358.5 L163.1,360.3 L162.0,361.9 L160.8,363.3 L159.2,364.0 L157.5,364.6 L155.7,364.9 L153.9,365.0 L152.1,364.4 L150.2,363.7 L148.1,362.1 L146.5,360.3 L145.3,357.6 L143.9,355.1 L143.3,351.6 L143.4,347.9 L143.4,344.8 L144.5,340.7 L145.5,337.5 L147.2,334.1 L149.4,330.7 L151.9,327.7 L154.8,325.4 L157.7,323.6 L161.1,322.6 L164.5,322.0 L168.0,321.4 L171.4,321.7 L174.5,322.2 L177.2,323.2 L179.9,324.6 L182.5,326.3 L184.3,328.9 L186.5,331.1 L187.8,333.4 L188.2,336.2 L188.7,338.4 L188.3,340.8 L187.8,342.9 L186.8,345.0 L184.9,346.3 L182.9,347.1 L180.5,347.2 L177.5,346.5 L175.4,345.2 L174.1,343.5 L172.9,341.5 L171.4,338.9 L170.1,336.0 L169.0,333.2 L168.1,329.5 L168.2,325.9 L168.2,322.6 L168.7,319.4 L168.9,316.5 L170.4,313.2 L172.3,309.9 L174.8,306.8 L177.9,304.2 L181.4,302.1 L185.6,300.5 L189.8,300.0 L193.7,299.3 L198.1,299.2 L201.8,299.8 L205.9,300.6 L208.9,301.7 L210.3,302.4" fill="none" stroke="#1e1e1e" stroke-width="1.65" stroke-linejoin="round"/>
<path d="M358.5,199.3 L360.0,201.9 L359.9,205.8 L358.4,209.2 L355.8,212.4 L352.4,214.6 L350.0,216.3 L347.2,217.7 L344.4,218.8 L341.1,219.8 L338.3,221.1 L335.3,221.7 L332.2,221.9 L329.3,221.9 L326.2,221.5 L323.5,221.4 L320.7,220.8 L318.1,220.5 L315.8,219.9 L314.0,219.6 L312.0,218.1 L310.7,216.3 L310.9,214.3 L313.0,213.0 L315.5,211.9 L317.9,211.9 L321.2,211.6 L324.6,212.4 L327.5,212.8 L330.4,213.3 L333.3,213.9 L336.1,215.1 L339.0,216.4 L341.8,218.0 L344.7,219.7 L347.5,221.8 L350.3,224.1 L352.8,226.0 L355.4,228.6 L357.4,231.3 L359.0,234.5 L359.4,238.0 L358.5,241.6 L356.6,245.3 L354.8,247.8 L351.9,250.4 L349.2,252.1 L346.1,254.2 L343.1,255.7 L339.8,257.2 L336.8,258.3 L333.9,259.4 L331.2,260.1 L328.5,260.6 L325.6,261.0 L322.7,261.3 L320.0,261.3 L317.6,261.5 L314.9,261.2 L312.7,260.7 L311.1,260.1 L309.9,259.1 L310.8,258.2 L313.8,257.6 L316.5,257.7 L319.3,258.3 L322.2,259.6 L325.3,261.1 L328.0,262.8 L330.8,264.9 L333.6,267.0 L336.5,268.9 L339.6,271.3 L342.5,273.5 L345.5,276.5 L348.3,279.4 L351.1,282.6 L353.7,286.2 L356.0,290.3 L357.8,294.6 L359.5,300.2 L360.0,305.5 L358.4,309.9 L355.7,314.1 L352.6,317.8 L349.5,320.5 L346.6,322.3 L343.7,324.7 L340.6,327.2 L337.4,329.3 L334.1,330.9 L331.3,332.5 L328.6,334.4 L325.7,336.1 L323.2,337.3 L320.8,338.6 L318.1,339.2 L315.8,339.8 L313.1,340.0 L312.0,339.7 L310.6,339.6 L310.6,338.7 L312.2,338.8 L314.3,338.7 L316.0,337.8 L317.7,335.6 L318.7,333.5 L319.9,332.3 L320.9,331.4 L321.8,330.8 L323.2,329.9 L324.5,329.0 L325.8,328.6 L327.1,328.1 L328.0,328.0 L328.9,327.7 L329.6,327.7 L330.2,328.6 L330.3,328.9 L330.4,329.9 L329.6,331.7 L328.2,333.5 L325.8,335.1 L321.5,335.9 L317.4,336.2 L313.5,335.9 L309.4,335.3 L305.2,334.1 L300.9,332.5 L296.9,330.6 L293.0,329.1 L288.8,327.7 L284.7,325.7 L280.4,323.9 L276.4,322.4 L272.6,320.3 L269.2,318.1 L265.5,316.1 L262.1,314.3 L259.5,311.7 L256.6,308.3 L254.7,304.8 L254.7,301.1 L255.6,298.3 L257.1,296.2 L258.5,294.2 L260.5,292.9 L262.4,291.6 L265.0,290.4 L267.1,290.1 L269.2,289.4 L271.4,289.7 L273.8,289.8 L275.8,290.3 L277.8,291.4 L279.5,292.0 L281.3,292.7 L283.2,293.4 L285.1,294.3 L286.4,295.4 L287.7,296.9 L288.0,298.9 L287.4,300.9 L285.2,302.2 L282.0,303.3 L278.4,303.6 L274.9,303.9 L271.4,303.4 L267.8,303.1 L264.0,302.7 L260.4,302.4 L256.8,301.9 L253.1,301.4 L249.5,300.2 L246.1,299.2 L242.7,297.8 L239.1,296.0 L235.8,294.0 L233.1,291.5 L230.2,289.4 L227.3,286.7 L225.0,284.3 L224.4,281.3 L224.2,278.1 L226.1,275.6 L227.5,275.2 L229.6,274.8 L231.9,274.2 L234.3,274.2 L236.4,274.8 L238.6,275.4 L240.9,275.9 L243.0,276.6 L245.1,277.9 L247.2,279.4 L249.4,280.5 L251.3,282.4 L252.9,284.1 L255.1,286.1 L256.6,288.8 L258.3,291.3 L259.4,293.9 L260.1,296.8 L260.8,300.3 L259.3,302.9 L255.8,306.0 L251.9,307.7 L248.0,309.3 L243.7,310.2 L239.3,310.8 L235.8,311.2 L231.7,311.8 L227.2,312.3 L223.1,312.5 L219.2,313.2 L214.8,313.7 L210.5,313.5 L206.2,313.2 L202.2,313.3 L198.4,313.7 L194.4,312.9 L190.6,312.5 L186.3,312.2 L182.3,311.4 L179.0,310.6 L176.4,308.8 L175.1,307.5 L174.9,306.8 L175.3,306.4 L176.0,306.4 L177.0,306.9 L178.2,307.9 L179.2,308.5 L180.5,309.1 L181.5,309.8 L182.8,310.9 L184.2,312.1 L185.5,313.4 L186.9,314.8 L187.9,316.3 L189.2,317.9 L190.6,320.0 L191.7,322.1 L192.6,324.4 L193.6,327.4 L194.1,329.6 L194.8,331.5 L194.9,335.5 L194.8,338.5 L194.2,342.5 L191.4,346.3 L187.4,349.8 L183.1,353.1 L178.5,355.6 L173.6,357.5 L168.6,359.5 L163.6,361.4 L158.9,362.3 L153.8,364.0 L152.5,362.7 L151.1,360.8 L150.1,358.9 L148.6,357.3 L147.2,355.6 L146.4,353.5 L145.1,351.4 L144.1,348.9 L142.5,346.5 L141.4,344.0 L140.7,341.5 L140.0,339.4 L139.1,336.4 L138.7,332.9 L138.7,329.3 L139.4,324.9 L140.7,321.1 L143.7,316.8 L147.6,313.0 L152.3,310.7 L156.4,308.6 L161.0,306.5 L165.2,305.0 L169.0,303.9 L173.4,302.9 L177.5,302.1 L181.6,301.8 L185.8,300.7 L190.0,300.2 L194.3,299.8 L198.4,300.0 L202.2,300.1 L206.1,300.5 L210.0,300.6 L213.6,301.4 L217.1,301.2 L220.4,302.1 L223.8,302.9 L226.7,303.8 L229.4,304.9 L231.4,306.5 L232.9,308.8 L232.7,311.5 L231.9,313.3 L230.1,314.3 L227.6,315.2 L225.9,315.3 L223.8,315.4 L221.9,314.7 L219.7,314.0 L217.8,312.9 L215.2,312.0 L213.4,311.2 L211.1,310.5 L208.9,309.6 L206.5,308.2 L204.3,306.9 L202.3,305.4 L200.3,303.8 L198.1,302.3 L196.4,300.9 L193.9,298.8 L192.4,297.6 L190.0,294.2 L188.8,291.9 L187.6,290.4 L187.1,288.4 L187.2,284.7 L187.6,281.0 L188.9,278.4 L191.6,276.4 L194.7,274.9 L198.3,273.1 L201.5,272.2 L205.3,271.1 L209.6,269.5 L213.6,268.7 L217.4,268.3 L221.2,268.1 L225.0,268.0 L227.1,267.9 L229.3,267.9 L231.9,268.1 L234.3,269.2 L236.4,270.2 L238.2,270.8 L240.1,271.9 L241.8,272.8 L243.5,273.8 L245.5,275.1 L246.7,276.1 L247.8,277.9 L247.5,280.2 L246.6,283.0 L244.0,285.3 L240.5,286.6 L236.5,287.7 L232.8,287.0 L228.1,287.1 L223.8,286.7 L219.9,285.7 L216.1,284.3 L211.9,283.1 L207.7,281.7 L203.9,280.0 L199.9,278.0 L195.9,275.9 L191.6,273.8 L187.8,271.4 L183.9,268.4 L180.2,265.9 L176.4,263.5 L172.8,260.8 L169.9,257.6 L167.3,254.4 L164.8,250.8 L163.3,247.2 L162.8,243.1 L162.6,239.4 L164.0,236.8 L165.1,234.7 L166.5,232.4 L167.7,230.6 L169.4,229.0 L170.8,227.6 L172.0,226.4 L172.7,225.3 L174.1,224.4 L175.3,223.5 L176.6,222.6 L177.8,222.1 L177.8,222.1" fill="none" stroke="#1e1e1e" stroke-width="1.65" stroke-linejoin="round"/>
<path d="M161.6,205.4 L160.8,209.1 L158.4,212.0 L156.4,214.5 L154.0,216.4 L151.5,217.6 L148.5,218.4 L145.5,219.4 L142.8,220.2 L139.8,220.4 L137.1,220.6 L134.4,220.8 L131.5,220.2 L129.0,219.8 L126.7,219.3 L124.5,218.5 L122.6,217.4 L121.4,216.6 L121.2,214.6 L121.5,212.7 L122.9,211.9 L124.7,211.5 L127.5,211.2 L130.3,211.9 L132.8,212.9 L135.8,213.9 L138.6,214.7 L141.5,216.2 L144.4,217.7 L147.2,219.7 L149.7,221.5 L152.6,223.8 L155.2,226.1 L158.0,228.8 L160.4,231.9 L162.5,235.3 L164.1,238.8 L165.2,243.6 L164.8,248.1 L163.9,252.3 L162.0,256.1 L159.7,259.2 L157.1,262.2 L154.1,264.9 L151.2,267.0 L148.0,269.6 L145.3,270.8 L142.4,272.7 L139.4,274.3 L136.7,276.0 L133.9,277.0 L131.4,278.3 L129.0,279.2 L126.2,280.4 L123.7,280.5 L121.4,280.9 L120.0,281.0 L119.2,280.7 L119.2,280.7 L120.6,280.2 L122.5,280.4 L125.0,280.6 L127.9,281.5 L130.5,282.5 L133.4,284.7 L136.4,286.8 L139.1,289.0 L142.4,291.6 L145.4,293.9 L148.2,296.8 L151.1,299.7 L154.2,302.8 L156.9,306.2 L159.3,309.2 L161.5,312.4 L163.8,316.5 L165.5,320.9 L166.7,325.7 L167.0,330.4 L165.9,335.2 L164.2,339.1 L162.2,342.4 L159.4,345.8 L156.9,348.8 L153.8,351.9 L150.7,354.5 L147.5,356.9 L144.0,359.6 L141.1,361.0 L138.1,362.4 L135.5,364.0 L132.6,365.1 L129.5,366.4 L127.9,366.4 L127.5,364.9 L127.3,363.1 L127.5,361.0 L128.3,357.9 L129.4,355.3 L131.7,352.4 L134.5,349.9 L137.9,347.8 L142.4,346.3 L146.5,344.8 L150.8,343.7 L155.4,342.8 L159.8,342.2 L164.2,342.2 L168.4,341.9 L172.5,342.3 L176.5,342.9 L180.3,343.3 L184.2,344.4 L187.9,345.3 L191.8,347.0 L194.6,348.7 L197.5,350.8 L199.7,353.1 L201.7,355.8 L202.8,358.5 L202.5,360.8 L201.2,363.2 L199.4,364.7 L196.8,366.0 L195.2,366.8 L193.4,367.7 L191.6,367.8 L189.4,367.7 L187.7,367.4 L185.8,367.0 L183.9,366.7 L182.1,366.2 L180.0,365.2 L178.2,364.4 L176.2,362.9 L174.7,361.1 L173.3,358.9 L172.2,356.6 L173.0,354.2 L174.1,351.3 L176.9,348.4 L180.2,346.3 L183.6,344.6 L187.3,343.5 L190.7,342.4 L194.2,341.7 L197.7,341.7 L201.3,341.4 L205.1,341.6 L209.0,342.0 L212.8,342.7 L216.3,343.1 L219.5,344.3 L222.6,345.3 L225.5,347.4 L228.1,349.0 L230.6,351.2 L231.9,354.0 L232.0,357.3 L231.2,359.5 L229.9,361.7 L229.0,363.3 L227.2,364.9 L225.6,365.7 L223.8,366.5 L222.0,367.4 L220.5,367.7 L218.7,367.7 L216.9,367.4 L215.7,367.0 L213.9,365.9 L212.3,365.0 L211.4,363.8 L211.0,361.9 L210.5,359.7 L210.4,357.5 L210.7,354.7 L212.3,351.7 L214.1,349.1 L216.7,346.7 L219.3,344.9 L222.8,342.8 L226.6,341.5 L230.5,339.5 L234.5,338.6 L239.3,337.9 L243.3,338.0 L248.1,338.4 L252.3,338.6 L257.0,339.0 L261.5,339.6 L266.1,340.6 L270.5,342.0 L274.8,344.5 L278.5,347.0 L281.6,349.6 L283.7,352.3 L285.9,355.7 L287.3,358.7 L288.0,361.2 L288.7,363.1 L288.4,365.4 L288.3,367.4 L287.7,368.7 L286.7,369.9 L286.2,370.8 L285.4,371.6 L284.8,371.5 L284.0,372.0 L283.5,372.1 L282.3,371.7 L281.5,370.8 L280.7,369.4 L280.4,368.7 L280.3,367.1 L280.6,365.2 L281.9,362.9 L283.9,360.0 L286.6,356.2 L290.5,354.0 L294.9,351.5 L299.4,349.4 L304.1,347.8 L308.6,346.5 L313.8,345.6 L319.1,344.8 L324.3,344.9 L329.2,344.9 L334.1,344.9 L337.3,344.5 L338.3,343.9 L339.2,343.2 L340.3,343.4 L341.2,343.2 L341.4,343.8 L341.0,344.9 L340.6,346.8 L339.6,348.3 L337.7,349.4 L334.6,350.8 L330.8,352.4 L326.7,353.2 L322.5,354.1 L318.6,354.4 L313.8,355.0 L309.4,354.6 L304.5,353.9 L300.1,352.6 L295.8,351.5 L291.7,350.2 L287.8,348.6 L284.2,346.9 L281.0,344.6 L277.3,341.7 L273.8,338.4 L271.5,335.1 L269.3,331.0 L268.0,327.2 L267.6,323.7 L267.8,319.7 L268.2,316.9 L269.3,314.6 L270.0,312.5 L271.9,311.0 L273.6,309.4 L275.3,308.3 L277.0,307.4 L278.9,306.5 L281.1,306.4 L282.9,306.3 L284.4,306.4 L285.4,307.7 L286.4,308.7 L286.9,310.6 L287.3,312.7 L286.5,314.7 L284.7,317.0 L282.4,319.8 L279.5,321.8 L276.0,322.9 L272.4,323.8 L269.2,324.2 L265.8,324.0 L262.0,323.7 L258.2,323.0 L254.8,322.2 L251.4,321.5 L248.2,319.8 L245.3,317.6 L243.1,315.4 L240.9,312.4 L239.4,309.4 L237.9,305.9 L238.0,302.8 L238.6,299.9 L240.2,297.1 L242.3,294.8 L244.3,292.7 L246.5,290.9 L248.5,290.4 L250.7,290.0 L252.7,289.5 L254.9,289.1 L257.2,289.1 L259.4,289.6 L261.4,290.1 L263.1,291.2 L264.5,293.6 L264.8,296.2 L264.0,298.2 L262.8,299.8 L260.6,301.7 L257.9,302.8 L255.7,303.6 L253.1,304.2 L249.8,305.1 L246.5,305.5 L243.3,305.9 L239.6,306.2 L235.7,305.9 L232.3,305.4 L228.9,304.3 L225.5,303.0 L222.2,300.6 L219.4,298.3 L216.9,295.0 L215.4,291.4 L214.2,287.4 L214.4,284.1 L215.2,280.9 L216.0,277.2 L217.2,274.8 L219.2,272.2 L221.0,269.9 L222.7,268.7 L224.8,267.2 L226.6,266.1 L228.4,265.3 L230.4,264.7 L232.4,264.7 L233.6,264.9 L234.4,265.5 L234.8,267.0 L235.2,268.6 L233.8,270.3 L231.5,272.1 L228.6,273.4 L225.3,274.6 L222.0,274.9 L217.8,275.5 L213.7,275.6 L209.8,275.3 L205.8,274.2 L202.0,272.9 L197.7,271.2 L193.3,269.4 L189.3,267.2 L185.1,264.6 L181.3,261.2 L177.6,257.4 L175.4,253.6 L174.2,249.6 L173.3,245.7 L173.4,241.5 L173.9,237.2 L174.5,233.7 L175.5,230.3 L176.3,227.7 L177.4,225.3 L178.7,223.6 L179.8,221.9 L180.9,220.5 L181.7,219.2 L183.0,218.3 L184.0,218.2 L184.6,218.1 L184.4,218.7 L183.9,219.8 L182.6,220.8 L180.8,221.8 L178.2,223.2 L174.7,224.1 L170.8,224.3 L166.7,224.2 L162.3,224.4 L158.1,224.1 L153.8,223.2 L149.4,221.8 L144.5,220.3 L144.5,220.3" fill="none" stroke="#1e1e1e" stroke-width="1.65" stroke-linejoin="round"/>
<path d="M329.1,344.6 L331.6,342.4 L334.5,340.4 L337.3,338.6 L340.0,337.2 L342.9,336.0 L345.6,334.7 L348.3,333.8 L350.8,333.1 L352.8,332.7 L354.9,333.0 L356.7,333.9 L358.1,335.1 L358.9,336.3 L359.0,337.9 L357.5,338.5 L356.0,339.5 L354.0,339.7 L351.9,339.7 L349.6,339.8 L347.1,339.7 L344.4,338.9 L341.2,338.3 L338.3,336.8 L335.5,335.3 L333.1,334.3 L330.1,332.4 L326.9,330.6 L324.0,328.2 L321.1,325.5 L318.4,322.4 L315.5,319.1 L313.5,315.9 L311.5,312.3 L310.2,307.1 L310.3,302.0 L311.5,296.4 L313.0,292.0 L315.1,287.9 L317.1,283.9 L320.0,280.2 L323.0,277.0 L325.9,273.4 L328.7,270.1 L331.8,267.0 L334.7,264.9 L337.8,262.5 L340.7,260.3 L343.6,258.5 L346.6,256.5 L349.2,254.1 L352.3,252.8 L355.1,251.8 L357.6,250.7 L359.4,250.7 L360.8,251.0 L359.9,251.6 L358.5,251.7 L356.0,252.0 L353.8,251.2 L351.3,250.6 L348.3,250.0 L345.5,249.2 L343.1,248.1 L340.3,246.6 L337.7,245.7 L334.7,244.4 L331.6,242.6 L328.8,241.0 L325.8,239.4 L322.8,237.4 L320.3,235.5 L317.7,233.1 L314.6,230.2 L312.0,227.2 L309.7,223.2 L308.2,219.7 L308.1,214.8 L309.1,210.5 L310.9,206.3 L312.5,203.1 L313.9,201.5 L315.0,199.5 L316.4,198.5 L317.5,197.3 L319.0,195.9 L320.7,195.0 L322.2,194.2 L323.4,193.4 L325.1,192.8 L326.6,192.7 L328.1,193.0 L329.6,193.7 L330.9,194.2 L332.3,195.0 L333.8,196.5 L334.5,198.0 L334.5,200.0 L333.9,201.9 L331.7,204.6 L329.1,207.2 L326.4,208.7 L323.1,211.1 L319.8,213.3 L316.0,214.2 L312.5,215.5 L309.0,216.8 L305.4,218.2 L301.8,218.9 L297.7,219.5 L294.1,220.0 L290.4,220.3 L286.5,220.1 L282.8,219.4 L279.5,218.9 L276.4,218.0 L274.2,216.1 L272.2,214.1 L271.1,211.5 L270.4,208.7 L270.8,205.9 L271.7,203.8 L272.7,201.7 L274.2,199.6 L275.7,197.6 L277.5,196.1 L279.6,194.7 L281.6,193.8 L284.2,192.7 L286.2,192.1 L288.3,191.7 L290.3,191.5 L292.8,191.7 L294.4,192.9 L295.9,194.3 L297.0,195.6 L298.6,198.4 L298.1,200.7 L296.5,203.5 L294.4,206.6 L291.7,208.8 L288.0,211.4 L284.5,212.9 L281.1,214.2 L277.8,214.9 L273.9,215.6 L270.3,216.5 L266.8,217.2 L263.1,217.8 L259.5,218.2 L255.7,218.3 L251.4,217.9 L247.5,217.1 L243.6,215.7 L240.3,213.2 L237.8,210.4 L237.4,207.6 L237.6,204.7 L237.4,202.5 L237.8,200.6 L240.4,198.6 L244.3,197.0 L248.6,195.2 L253.0,193.8 L257.3,192.8 L261.8,192.3 L266.4,191.8 L270.6,191.4 L275.2,191.6 L279.9,192.3 L284.8,193.5 L289.1,194.7 L292.9,196.5 L295.3,199.4 L297.6,202.6 L298.4,205.1 L298.7,207.5 L298.7,209.8 L298.5,211.9 L298.0,213.7 L297.0,215.1 L296.4,216.1 L295.9,217.1 L295.3,218.0 L294.3,218.6 L293.4,218.9 L293.1,219.0 L292.2,218.7 L291.9,218.4 L291.2,217.9 L291.9,216.8 L293.1,214.2 L295.3,211.5 L298.0,208.7 L301.8,205.6 L305.8,203.0 L310.1,201.5 L314.6,199.8 L319.3,198.2 L324.2,197.3 L326.6,195.7 L327.3,195.2 L327.9,194.9 L329.0,195.3 L329.4,194.9 L330.3,195.0 L330.9,195.7 L331.7,196.8 L332.1,197.6 L332.6,199.9 L331.2,203.3 L329.2,206.6 L325.7,210.2 L321.4,212.5 L317.4,214.9 L312.9,217.8 L308.5,219.9 L303.8,221.9 L299.0,223.7 L294.3,225.4 L289.4,226.5 L284.7,227.5 L279.5,228.5 L275.2,229.6 L270.0,230.3 L265.6,231.2 L261.0,230.9 L256.6,230.7 L252.5,229.5 L248.3,227.8 L245.5,225.1 L243.7,223.3 L242.6,220.8 L242.3,217.9 L242.5,215.5 L242.7,214.0 L243.4,212.0 L244.7,210.5 L245.5,209.4 L246.7,208.1 L248.3,206.9 L249.2,206.2 L251.3,205.7 L253.2,205.8 L255.2,205.7 L256.7,206.3 L258.3,207.0 L259.8,207.5 L261.7,208.6 L262.8,210.1 L262.9,212.9 L262.4,215.8 L261.4,219.1 L259.5,221.8 L256.7,224.9 L253.8,227.5 L251.0,229.9 L247.2,231.2 L243.9,232.7 L240.6,234.4 L237.3,236.0 L233.3,237.7 L229.5,238.6 L225.7,239.4 L222.0,240.0 L217.9,240.3 L214.5,240.1 L210.9,240.1 L206.9,240.1 L203.5,238.7 L200.3,236.4 L198.0,234.7 L196.4,232.1 L195.1,230.1 L195.0,227.1 L195.8,224.7 L196.8,222.5 L198.4,220.4 L199.7,219.0 L200.9,217.8 L203.4,216.5 L206.3,215.5 L210.0,213.7 L213.3,212.4 L217.0,211.1 L221.1,210.3 L225.0,209.6 L228.9,209.7 L232.7,210.0 L237.1,210.4 L240.2,211.3 L243.7,212.3 L247.2,213.8 L250.1,216.0 L252.6,218.3 L253.4,220.8 L253.4,223.1 L252.8,225.0 L251.9,227.6 L250.8,229.5 L249.4,231.2 L247.9,232.5 L246.4,233.8 L244.7,234.4 L243.1,235.2 L241.4,235.9 L239.6,235.9 L238.1,236.1 L236.3,236.2 L234.5,235.8 L233.0,235.4 L231.2,234.9 L229.4,234.1 L227.4,233.3 L225.9,231.9 L224.7,230.0 L224.4,227.7 L225.7,225.1 L227.7,222.6 L230.1,219.4 L233.2,216.8 L236.3,213.5 L240.2,211.4 L244.6,208.9 L248.7,207.2 L253.0,205.5 L257.3,203.8 L261.5,202.3 L266.0,201.0 L270.6,199.4 L275.5,198.3 L280.2,197.4 L285.2,196.9 L289.7,196.3 L294.7,196.0 L299.7,196.4 L303.9,196.7 L308.1,197.7 L312.7,199.5 L316.3,200.9 L319.5,202.8 L321.7,206.3 L323.2,208.7 L323.6,210.7 L323.7,212.7 L324.1,214.3 L324.2,215.8 L324.0,217.7 L323.7,218.9 L323.0,220.0 L322.9,220.7 L322.4,221.1 L321.5,221.4 L320.8,221.5 L319.8,220.9 L318.7,220.6 L317.9,220.2 L317.3,220.0 L315.5,220.4 L311.7,221.9 L307.7,222.9 L304.0,223.2 L301.0,223.5 L298.7,223.8 L297.4,223.1 L296.7,221.9 L296.5,221.7 L296.5,221.4 L296.9,221.1 L297.5,220.8 L298.0,220.5 L299.2,220.4 L300.5,220.4 L302.4,220.8 L303.8,221.4 L305.7,222.6 L307.3,223.1 L308.9,224.2 L310.6,225.2 L312.9,226.3 L315.0,227.9 L317.0,229.4 L319.4,231.4 L321.6,233.4 L323.5,235.5 L325.9,238.2 L327.4,241.5 L328.5,245.7 L329.1,250.2 L329.6,254.6 L328.2,259.7 L326.6,264.3 L324.1,268.5 L321.6,271.7 L318.5,274.9 L315.4,279.0 L312.3,282.6 L309.2,286.1 L307.4,287.8" fill="none" stroke="#1e1e1e" stroke-width="1.65" stroke-linejoin="round"/>
<path d="M310.9,205.6 L306.7,204.4 L303.8,201.6 L304.1,199.7 L304.7,198.7 L306.1,198.5 L306.8,198.6 L307.4,198.5 L308.2,198.5 L309.1,198.6 L310.1,198.9 L310.9,199.3 L311.8,199.2 L312.6,199.8 L313.4,199.8 L314.3,200.5 L315.2,201.6 L316.1,202.5 L316.9,203.7 L317.3,204.7 L317.2,206.0 L317.1,208.3 L315.9,211.3 L311.8,213.9 L306.9,216.0 L301.4,217.8 L296.4,219.2 L290.9,220.8 L286.0,221.3 L280.5,222.3 L275.3,222.7 L270.2,223.0 L264.9,223.4 L259.7,223.6 L254.8,223.7 L249.7,223.6 L244.6,223.5 L240.0,223.3 L235.2,222.8 L230.5,221.7 L226.4,220.5 L223.4,218.4 L222.4,215.8 L223.1,214.8 L223.9,214.9 L225.3,214.8 L226.3,215.4 L227.4,215.9 L228.4,216.4 L229.3,216.6 L230.5,217.1 L231.6,217.7 L232.6,218.7 L233.7,219.7 L234.8,220.5 L235.9,221.4 L236.9,222.5 L237.4,224.4 L238.7,226.4 L238.8,228.3 L237.9,230.6 L235.7,233.3 L231.0,235.6 L226.7,237.0 L222.6,237.4 L218.3,238.2 L213.8,238.5 L209.8,238.6 L205.4,239.0 L201.0,239.2 L196.4,239.6 L192.3,239.6 L188.0,239.6 L184.2,239.4 L180.1,238.8 L176.3,238.1 L172.3,238.1 L168.6,236.7 L165.3,236.0 L162.0,235.0 L159.3,232.3 L159.7,229.8 L161.5,227.9 L163.4,226.8 L165.3,226.1 L167.1,225.9 L169.1,225.0 L171.0,224.8 L173.1,225.0 L175.1,224.9 L177.0,224.8 L179.2,224.6 L181.3,224.7 L183.4,225.1 L185.3,225.2 L187.5,225.7 L189.5,226.1 L191.5,226.4 L193.1,227.0 L195.2,227.8 L197.2,228.6 L198.4,230.3 L197.5,233.1 L193.7,234.3 L189.5,235.4 L186.2,236.0 L182.9,236.4 L179.2,236.5 L175.6,236.6 L172.2,236.4 L168.6,236.4 L164.7,236.1 L161.1,235.9 L157.4,235.6 L153.7,235.1 L149.9,234.9 L146.2,234.7 L142.8,234.6 L139.1,234.2 L135.3,233.8 L131.4,233.0 L127.6,231.8 L123.9,230.5 L121.3,228.5 L120.8,226.2 L122.2,223.7 L124.1,222.6 L126.2,221.9 L127.7,220.8 L129.5,219.9 L132.4,218.0 L135.0,216.4 L137.9,214.8 L140.5,213.6 L143.4,212.1 L146.4,210.7 L149.3,209.7 L152.1,208.6 L154.6,207.3 L157.3,205.9 L160.1,204.8 L162.9,204.0 L165.0,203.1 L168.0,202.4 L169.9,202.6 L171.1,203.0 L172.9,205.8 L171.5,209.7 L170.1,212.0 L168.6,214.0 L166.9,215.7 L165.3,216.8 L164.0,218.0 L161.7,219.8 L159.8,221.5 L158.3,222.3 L156.6,224.0 L155.1,224.9 L153.6,226.0 L152.1,226.6 L150.6,227.1 L149.4,228.1 L148.0,228.9 L146.7,229.2 L145.6,230.1 L144.8,229.7 L143.8,229.5 L145.2,228.0 L149.1,226.2 L153.1,225.6 L157.2,226.1 L161.7,227.1 L166.2,227.8 L170.6,228.2 L175.2,228.8 L179.7,229.9 L184.5,231.0 L189.0,232.1 L193.5,233.4 L198.0,234.8 L202.8,236.6 L207.3,238.0 L211.8,239.8 L216.4,242.0 L221.1,243.6 L225.1,246.0 L229.0,249.5 L232.2,252.6 L233.7,256.6 L233.5,260.7 L232.5,263.8 L231.7,266.5 L230.3,268.8 L229.4,270.6 L227.9,273.0 L226.7,274.9 L225.6,276.4 L224.4,277.9 L223.1,279.3 L221.9,280.8 L220.7,282.6 L219.4,283.5 L218.0,284.0 L216.6,285.1 L215.6,285.9 L214.4,286.4 L213.5,287.5 L213.5,286.7 L214.1,285.3 L217.0,284.2 L220.6,284.2 L224.9,284.2 L229.5,283.8 L234.1,283.3 L238.3,283.2 L242.4,283.9 L246.7,284.1 L250.9,285.0 L254.9,285.9 L259.2,286.5 L263.1,287.4 L267.4,288.3 L271.5,290.0 L275.8,290.9 L280.0,292.0 L284.0,293.2 L287.1,292.6 L290.3,293.4 L292.5,294.8 L292.7,296.5 L291.6,297.8 L290.1,299.1 L287.8,299.8 L285.8,300.1 L283.1,300.0 L280.7,299.7 L278.3,298.9 L275.8,298.5 L273.4,297.1 L271.1,295.9 L269.1,294.9 L266.9,294.3 L264.6,293.5 L262.2,292.3 L260.0,291.2 L257.6,289.7 L255.3,288.3 L253.2,286.4 L251.5,283.7 L250.9,281.0 L252.4,277.8 L255.8,275.6 L259.4,273.7 L262.8,272.2 L266.2,270.8 L269.8,269.5 L273.7,268.3 L277.2,267.6 L280.6,266.8 L284.2,266.0 L287.5,265.7 L291.0,265.6 L294.4,265.3 L297.7,265.6 L300.8,265.5 L303.9,265.8 L307.2,266.0 L310.5,266.8 L313.3,267.9 L315.0,269.9 L314.4,271.9 L311.7,272.7 L309.2,273.0 L306.6,272.1 L304.2,271.8 L302.0,271.3 L299.5,270.5 L297.0,269.6 L294.3,269.0 L292.1,268.2 L289.7,267.4 L287.5,266.2 L285.2,265.3 L283.0,263.5 L280.6,262.3 L278.2,261.0 L276.1,260.3 L273.9,258.8 L272.4,256.7 L271.1,254.4 L271.1,252.1 L272.5,248.4 L275.5,245.4 L279.4,243.4 L282.9,241.8 L286.3,240.8 L289.9,239.1 L293.4,237.5 L297.2,235.6 L301.0,234.1 L304.9,232.9 L308.7,231.2 L312.6,230.0 L316.3,229.0 L320.2,228.3 L324.2,227.6 L325.5,228.0 L327.0,229.0 L328.0,229.8 L328.6,231.0 L329.3,232.4 L328.3,234.9 L325.2,237.1 L320.6,238.6 L316.3,239.8 L311.7,240.2 L306.6,240.0 L301.6,239.9 L296.4,239.7 L291.3,239.7 L286.6,239.1 L281.5,238.9 L276.4,238.2 L271.2,237.5 L266.2,236.7 L261.2,235.6 L256.5,234.5 L251.7,233.3 L246.8,232.1 L242.1,230.0 L237.3,228.1 L233.3,225.4 L231.4,222.7 L231.4,220.4 L232.2,219.0 L233.2,217.8 L233.5,217.0 L234.0,216.6 L234.6,216.4 L235.6,215.9 L236.3,215.5 L237.2,214.9 L238.1,214.7 L238.8,214.2 L239.6,214.4 L240.2,214.7 L241.0,215.2 L241.9,215.7 L242.5,217.0 L242.9,218.3 L243.0,219.6 L241.7,221.9 L238.1,223.8 L233.8,224.7 L228.8,225.8 L223.4,226.5 L218.8,226.3 L213.7,226.6 L208.8,226.7 L203.8,226.6 L199.0,226.7 L194.3,225.9 L189.5,225.3 L184.8,224.3 L180.3,223.8 L176.1,222.9 L171.6,221.5 L167.4,220.0 L163.0,218.5 L159.7,216.8 L156.1,214.3 L153.8,211.2 L153.2,208.1 L154.7,205.8 L156.6,203.9 L158.0,203.0 L158.9,202.4 L160.5,202.4 L162.6,202.1 L164.5,201.7 L165.8,201.6 L167.6,201.7 L169.0,202.3 L170.7,202.4 L172.4,202.7 L174.0,203.2 L178.2,204.3 L181.6,205.3 L185.5,206.8 L188.9,209.0 L192.0,211.1 L194.4,213.2 L196.0,215.3 L195.4,218.5 L193.5,220.6 L191.8,222.1 L189.4,222.9 L189.4,222.9" fill="none" stroke="#1e1e1e" stroke-width="1.65" stroke-linejoin="round"/>
<path d="M139.2,343.1 L138.4,342.2 L137.5,340.9 L136.3,339.3 L135.1,337.8 L134.4,336.5 L133.7,335.2 L132.8,333.2 L131.6,330.9 L131.8,328.5 L131.2,325.0 L131.6,321.8 L133.4,318.0 L136.5,314.2 L140.5,310.8 L145.0,308.0 L149.4,304.5 L153.8,302.0 L158.3,299.5 L162.8,297.8 L167.3,295.9 L171.6,293.8 L176.0,292.1 L180.4,290.6 L184.7,289.4 L189.6,288.4 L193.9,287.3 L198.3,286.5 L202.5,286.0 L206.9,285.4 L210.9,285.3 L215.2,285.1 L219.4,285.3 L223.0,285.7 L226.8,286.6 L229.8,287.5 L232.8,289.0 L234.2,291.3 L234.6,293.6 L234.1,295.1 L232.3,296.9 L229.8,298.7 L228.2,299.6 L226.4,299.8 L224.4,300.3 L222.5,300.9 L220.7,300.5 L218.2,300.8 L216.2,300.4 L214.2,300.1 L212.7,299.8 L210.4,298.7 L208.3,297.8 L206.1,297.4 L203.8,296.2 L201.8,295.1 L199.7,293.9 L197.8,292.8 L196.6,292.1 L195.4,290.4 L194.0,288.1 L192.9,285.1 L193.1,282.6 L194.1,279.3 L196.7,275.7 L199.8,273.1 L203.2,271.5 L206.3,269.3 L209.5,267.7 L213.1,266.1 L216.9,264.9 L220.6,263.7 L224.0,263.2 L227.8,262.5 L231.4,262.0 L234.9,261.5 L238.2,261.3 L241.7,261.0 L245.1,260.9 L248.7,261.0 L251.2,261.7 L252.9,262.3 L254.6,263.9 L255.7,265.6 L256.9,266.8 L256.8,269.6 L255.5,272.3 L253.0,274.4 L249.9,275.9 L246.6,276.9 L242.9,277.4 L239.0,277.6 L235.4,276.7 L231.5,276.3 L228.2,276.1 L224.1,275.4 L220.0,274.8 L216.2,274.0 L212.4,272.7 L208.8,271.1 L205.1,269.8 L201.4,268.8 L197.6,266.6 L194.3,264.7 L190.9,261.9 L188.6,259.5 L187.3,255.3 L186.9,252.2 L188.0,249.3 L189.5,246.9 L191.3,244.9 L192.8,242.9 L194.4,241.4 L195.8,239.6 L197.2,238.4 L198.9,237.7 L200.3,236.4 L201.9,235.7 L203.6,235.2 L204.8,234.0 L206.4,234.0 L207.5,233.6 L208.7,233.9 L210.0,233.9 L210.5,233.8 L210.6,235.2 L207.9,236.3 L203.9,236.6 L199.6,236.6 L195.3,236.0 L190.7,235.4 L186.3,234.8 L181.7,234.0 L176.9,233.5 L172.3,232.7 L167.7,231.4 L163.0,230.2 L158.1,228.7 L153.8,227.2 L149.1,225.5 L144.5,223.3 L139.9,221.5 L135.5,218.5 L131.4,215.1 L129.4,211.4 L129.2,207.6 L129.7,204.9 L130.5,202.7 L131.8,200.3 L133.3,198.7 L138.3,199.6 L143.0,200.6 L147.7,201.9 L152.4,203.3 L156.9,204.8 L161.5,206.3 L166.0,207.6 L170.7,209.6 L175.0,211.3 L179.7,213.8 L183.6,215.6 L187.5,217.7 L189.9,221.5 L191.3,225.2 L190.5,228.6 L189.3,230.7 L188.1,232.3 L186.7,233.6 L184.9,235.5 L182.9,237.2 L181.4,237.9 L179.9,238.8 L178.3,239.6 L176.7,240.2 L175.2,240.9 L173.4,241.3 L171.6,241.0 L170.3,241.4 L169.1,241.7 L167.8,241.3 L166.7,240.8 L166.8,239.4 L169.5,237.7 L173.5,236.4 L177.2,236.2 L181.9,236.0 L185.9,236.0 L189.9,236.5 L194.1,237.3 L197.9,238.0 L201.6,238.9 L205.6,239.7 L209.5,240.5 L213.3,241.8 L217.2,243.4 L220.7,244.7 L223.9,246.3 L227.3,247.8 L230.3,250.2 L233.1,252.3 L234.3,254.9 L232.8,257.5 L230.4,259.1 L228.0,260.5 L225.8,261.0 L223.5,262.0 L221.1,263.1 L218.8,263.6 L216.6,264.3 L214.2,264.7 L211.9,265.4 L209.5,265.6 L207.3,265.8 L204.9,265.6 L202.9,265.7 L201.0,265.5 L199.2,265.3 L197.0,264.1 L195.8,261.9 L196.2,259.9 L199.6,258.8 L203.1,258.2 L206.7,257.7 L210.2,257.6 L213.7,257.4 L217.2,257.8 L220.9,257.9 L224.7,258.3 L228.4,259.3 L232.1,260.0 L235.9,260.1 L239.4,260.7 L243.1,260.7 L246.4,261.4 L250.1,262.1 L253.4,263.0 L256.4,263.5 L258.8,264.8 L259.4,267.1 L257.2,268.6 L255.5,269.1 L253.9,269.3 L251.7,269.3 L249.6,268.9 L247.5,268.6 L245.4,267.8 L243.6,266.6 L241.7,265.5 L240.1,264.2 L238.3,263.3 L236.6,262.4 L234.9,260.8 L233.0,259.4 L231.1,258.0 L229.5,256.5 L228.2,255.0 L226.8,253.0 L227.2,251.4 L229.7,248.5 L234.0,246.3 L238.0,244.6 L242.3,243.7 L246.8,242.6 L251.2,241.4 L255.6,240.4 L260.0,239.2 L264.5,238.1 L268.9,237.4 L273.5,236.7 L277.8,235.8 L282.4,235.7 L287.1,235.5 L291.7,234.9 L296.5,234.8 L301.1,234.3 L306.0,233.7 L309.8,234.0 L313.6,234.7 L315.0,236.2 L314.9,237.0 L314.6,236.1 L313.5,236.3 L312.5,236.5 L311.6,236.5 L310.3,235.4 L309.1,234.7 L307.9,233.6 L306.9,233.0 L305.9,232.4 L304.9,231.3 L303.7,229.7 L302.8,228.1 L301.6,226.9 L300.6,225.3 L300.1,223.8 L299.6,221.7 L298.7,219.5 L298.5,216.7 L298.4,213.6 L299.5,210.0 L303.0,206.3 L307.8,204.1 L311.5,205.5 L314.0,206.7 L316.8,209.1 L319.5,211.5 L322.7,213.5 L325.9,215.8 L329.0,218.3 L331.5,221.0 L334.6,223.2 L337.4,225.7 L340.4,228.2 L343.4,230.8 L346.1,233.8 L349.3,236.6 L352.2,239.6 L354.8,242.3 L357.5,245.6 L359.9,248.4 L361.4,252.2 L361.3,256.9 L359.1,260.5 L356.1,262.7 L353.9,265.4 L351.2,267.0 L348.4,269.1 L345.6,270.8 L342.7,272.6 L339.8,274.3 L336.9,275.9 L333.9,277.2 L330.8,278.6 L327.9,280.3 L324.8,281.3 L321.6,282.3 L318.8,283.1 L315.5,283.2 L312.5,283.4 L309.9,283.6 L307.6,283.8 L305.0,284.0 L302.4,283.8 L301.4,282.6 L302.9,281.4 L306.0,281.0 L309.1,281.3 L312.1,282.1 L315.4,282.9 L318.6,283.8 L321.8,285.1 L324.6,286.2 L327.7,287.5 L330.4,289.4 L333.4,290.8 L336.3,292.2 L339.5,293.5 L342.4,295.2 L345.0,297.0 L347.8,298.3 L350.5,300.0 L353.4,301.9 L356.1,303.6 L358.7,305.4 L361.2,307.0 L363.2,309.5 L365.5,311.6 L365.4,314.9 L362.7,317.9 L359.4,320.2 L356.2,321.5 L353.4,323.0 L350.3,324.2 L347.2,325.0 L343.8,325.8 L340.5,326.4 L337.6,326.4 L334.9,326.2 L332.1,326.6 L330.7,326.6" fill="none" stroke="#1e1e1e" stroke-width="1.65" stroke-linejoin="round"/>
<path d="M336,214 Q352.0,211.3 368,213 Q352.0,215.7 336,214 Z" fill="#1a1a1a" stroke="#1a1a1a" stroke-width="0.6"/>
<path d="M330,304 Q345.0,302.5 360,305 Q345.0,306.5 330,304 Z" fill="#1a1a1a" stroke="#1a1a1a" stroke-width="0.6"/>
<path d="M300,233 Q315.0,230.2 330,231 Q315.0,233.8 300,233 Z" fill="#1a1a1a" stroke="#1a1a1a" stroke-width="0.6"/>
<path d="M335,252 Q346.0,249.9 357,251 Q346.0,253.1 335,252 Z" fill="#1a1a1a" stroke="#1a1a1a" stroke-width="0.6"/>
<path d="M233,214 Q247.5,211.4 262,212 Q247.5,214.6 233,214 Z" fill="#1a1a1a" stroke="#1a1a1a" stroke-width="0.6"/>
<path d="M326,324 Q340.0,321.5 354,322 Q340.0,324.5 326,324 Z" fill="#1a1a1a" stroke="#1a1a1a" stroke-width="0.6"/>
<path d="M389,147 L565,128 L565,433 L389,433 Z" fill="#fff" stroke="#1c1c1c" stroke-width="0" />
<path d="M387.8,126.5 L429,126.5 L429,128.4 L447.5,128.4 L447.5,142 L492,142 L492,157 L439,157 L439,244.5 L467.7,244.5 L467.7,257.6 L391.5,257.6 L391.5,264 L368,264 L368,261 C368,245 388,241 388,227 L388,176 L389.5,176 L389.5,151 L388,151 Z" fill="url(#hBb)" stroke="#1c1c1c" stroke-width="1.2" />
<path d="M429,126.5 L429,144 Q429,147.7 425.6,147.7" fill="none" stroke="#1c1c1c" stroke-width="1.1" />
<path d="M447.5,128.4 L555,128.4 L555,141.5 L447.5,141.5 Z" fill="url(#hFt)" stroke="#1c1c1c" stroke-width="1.1" />
<rect x="401" y="139" width="24.6" height="117" fill="#fff" stroke="#1c1c1c" stroke-width="1.1" />
<rect x="404.6" y="139" width="18.4" height="117" fill="#fff" stroke="#1c1c1c" stroke-width="1" />
<path d="M401,152 L397,155.4 L401,158.8 L397,162.2 L401,165.6 L397,169.0 L401,172.4 L397,175.8 L401,179.2 L397,182.6 L401,186.0 L397,189.4 L401,192.8 L397,196.2 L401,199.6 L397,203.0 L401,206.4" fill="#fff" stroke="#1c1c1c" stroke-width="1.1" />
<path d="M425.6,152 L429.6,155.4 L425.6,158.8 L429.6,162.2 L425.6,165.6 L429.6,169.0 L425.6,172.4 L429.6,175.8 L425.6,179.2 L429.6,182.6 L425.6,186.0 L429.6,189.4 L425.6,192.8 L429.6,196.2 L425.6,199.6 L429.6,203.0 L425.6,206.4" fill="#fff" stroke="#1c1c1c" stroke-width="1.1" />
<circle cx="413.8" cy="148.6" r="8" fill="#fff" stroke="#1c1c1c" stroke-width="1.2"/>
<circle cx="413.5" cy="247.8" r="8" fill="#fff" stroke="#1c1c1c" stroke-width="1.2"/>
<path d="M408.8,237.7 L408.8,196 L413.8,191 L418.9,196 L418.9,237.7" fill="none" stroke="#1c1c1c" stroke-width="1" />
<line x1="408.8" y1="210" x2="418.9" y2="210" stroke="#1c1c1c" stroke-width="0.7" />
<line x1="439" y1="196.5" x2="484" y2="196.5" stroke="#1c1c1c" stroke-width="1" />
<line x1="439" y1="203.3" x2="484" y2="203.3" stroke="#1c1c1c" stroke-width="1" />
<ellipse cx="467.7" cy="174.7" rx="3.5" ry="2" fill="none" stroke="#1c1c1c" stroke-width="1"/>
<line x1="492" y1="142" x2="492" y2="186" stroke="#1c1c1c" stroke-width="1.1" />
<line x1="439" y1="243" x2="484" y2="243" stroke="#1c1c1c" stroke-width="1.1" />
<path d="M368,264 L391.5,264 L391.5,257.6 L448,257.6 L448,304.5 L407,304.5 L407,298.6 L368,298.6 Z" fill="url(#hFs)" stroke="#1c1c1c" stroke-width="1.2" />
<rect x="391.5" y="257.6" width="16.9" height="6" fill="#fff" stroke="#1c1c1c" stroke-width="1" />
<rect x="391.5" y="298.6" width="15.5" height="6" fill="#fff" stroke="#1c1c1c" stroke-width="1" />
<rect x="448" y="257.6" width="9.5" height="47" fill="#fff" stroke="#1c1c1c" stroke-width="1" />
<line x1="448" y1="270" x2="457.5" y2="270" stroke="#1c1c1c" stroke-width="1" />
<line x1="448" y1="295" x2="457.5" y2="295" stroke="#1c1c1c" stroke-width="1" />
<rect x="457.5" y="257.6" width="9.5" height="41" fill="url(#hFs)" stroke="#1c1c1c" stroke-width="1" />
<path d="M368,298.6 L407,298.6 L407,304.5 L424.5,305 L424.5,402 L493.4,402 L493.4,421 L448,421 L448,433 L429,433 L429,414 L389,414 L389,336 C389,322 368,315 368,300 Z" fill="url(#hBb)" stroke="#1c1c1c" stroke-width="1.2" />
<path d="M448,421 L530,421 L530,433 L448,433 Z" fill="url(#hFs)" stroke="#1c1c1c" stroke-width="1.1" />
<path d="M388,414.5 L429,414.5 L429,434.5 L388,434.5 Z" fill="url(#hB)" stroke="#1c1c1c" stroke-width="0" />
<line x1="388" y1="414.5" x2="429" y2="414.5" stroke="#1c1c1c" stroke-width="1.1" />
<line x1="429" y1="414.5" x2="429" y2="434.5" stroke="#1c1c1c" stroke-width="1.1" />
<line x1="387" y1="434.5" x2="429" y2="434.5" stroke="#1c1c1c" stroke-width="1.4" />
<path d="M403,414.5 L405,421.5 L419,421.5 L421,414.5" fill="none" stroke="#1c1c1c" stroke-width="1" />
<rect x="406" y="414.5" width="11" height="7" fill="#fff" stroke="#1c1c1c" stroke-width="0.9" />
<rect x="424.5" y="358" width="52" height="40" fill="#fff" stroke="#1c1c1c" stroke-width="1.2" />
<rect x="412" y="370" width="12.5" height="12.4" fill="#fff" stroke="#1c1c1c" stroke-width="1" />
<rect x="427.7" y="395.5" width="8.3" height="2.8" fill="#fff" stroke="#1c1c1c" stroke-width="0.9" />
<rect x="430" y="299" width="41" height="6" fill="#fff" stroke="#1c1c1c" stroke-width="1" />
<line x1="440" y1="299" x2="440" y2="305" stroke="#1c1c1c" stroke-width="0.9" />
<line x1="452" y1="299" x2="452" y2="305" stroke="#1c1c1c" stroke-width="0.9" />
<line x1="462" y1="299" x2="462" y2="305" stroke="#1c1c1c" stroke-width="0.9" />
<rect x="433" y="305" width="30" height="6" fill="#fff" stroke="#1c1c1c" stroke-width="1" />
<line x1="445" y1="305" x2="445" y2="311" stroke="#1c1c1c" stroke-width="0.9" />
<path d="M425,347 L425,313 Q425,310 428,310 L436,310 L436,345 Q432,350 425,347 Z" fill="none" stroke="#1c1c1c" stroke-width="1" />
<path d="M430,316 Q433,325 434,338" fill="none" stroke="#1c1c1c" stroke-width="0.8" />
<circle cx="451" cy="324" r="11.5" fill="#fff" stroke="#1c1c1c" stroke-width="1.2"/>
<rect x="470" y="311" width="25" height="22" fill="#fff" stroke="#1c1c1c" stroke-width="1" />
<rect x="495" y="305" width="17" height="28" fill="#fff" stroke="#1c1c1c" stroke-width="1" />
<line x1="498" y1="305" x2="498" y2="333" stroke="#1c1c1c" stroke-width="0.6" />
<line x1="501" y1="305" x2="501" y2="333" stroke="#1c1c1c" stroke-width="0.6" />
<line x1="504" y1="305" x2="504" y2="333" stroke="#1c1c1c" stroke-width="0.6" />
<line x1="507" y1="305" x2="507" y2="333" stroke="#1c1c1c" stroke-width="0.6" />
<line x1="510" y1="305" x2="510" y2="333" stroke="#1c1c1c" stroke-width="0.6" />
<rect x="497" y="303" width="12" height="3" fill="#fff" stroke="#1c1c1c" stroke-width="0.8" />
<rect x="486" y="336" width="44" height="7" fill="#fff" stroke="#1c1c1c" stroke-width="1" />
<rect x="498" y="343" width="7" height="12" fill="#fff" stroke="#1c1c1c" stroke-width="1" />
<rect x="512.7" y="319" width="20.3" height="17.7" fill="#fff" stroke="#1c1c1c" stroke-width="1" />
<line x1="492" y1="344" x2="492" y2="402" stroke="#1c1c1c" stroke-width="1.1" />
<rect x="492" y="344" width="5.7" height="5.5" fill="#fff" stroke="#1c1c1c" stroke-width="0.9" />
<rect x="504.3" y="344" width="7" height="5.5" fill="#fff" stroke="#1c1c1c" stroke-width="0.9" />
<line x1="492" y1="311" x2="512" y2="311" stroke="#1c1c1c" stroke-width="0.9" />
<rect x="484" y="185.5" width="57.6" height="107" fill="#fff" stroke="#1c1c1c" stroke-width="1.2" />
<line x1="488" y1="185.5" x2="488" y2="292.5" stroke="#1c1c1c" stroke-width="0.9" />
<line x1="536.5" y1="185.5" x2="536.5" y2="292.5" stroke="#1c1c1c" stroke-width="0.9" />
<line x1="484" y1="275" x2="541.6" y2="275" stroke="#1c1c1c" stroke-width="0.9" />
<line x1="484" y1="281.3" x2="541.6" y2="281.3" stroke="#1c1c1c" stroke-width="0.9" />
<rect x="484" y="292.5" width="57" height="12.5" fill="#fff" stroke="#1c1c1c" stroke-width="1" />
<line x1="503" y1="292.5" x2="503" y2="305" stroke="#1c1c1c" stroke-width="1" />
<line x1="522.4" y1="292.5" x2="522.4" y2="305" stroke="#1c1c1c" stroke-width="1" />
<line x1="490" y1="142" x2="490" y2="185.5" stroke="#1c1c1c" stroke-width="1.1" />
<rect x="542.6" y="254.5" width="8.4" height="9.5" fill="url(#hFt)" stroke="#1c1c1c" stroke-width="1" />
<rect x="542.6" y="264" width="19.4" height="32.5" fill="#fff" stroke="#1c1c1c" stroke-width="1" />
<rect x="551" y="235" width="11" height="25" fill="url(#hFt)" stroke="#1c1c1c" stroke-width="1" />
<rect x="542.6" y="296.5" width="8.4" height="9.5" fill="url(#hFt)" stroke="#1c1c1c" stroke-width="1" />
<rect x="551" y="296.5" width="11" height="33.5" fill="url(#hFt)" stroke="#1c1c1c" stroke-width="1" />
<rect x="561.8" y="175" width="6.5" height="211" fill="url(#hFt)" stroke="#1c1c1c" stroke-width="1" />
<rect x="561.8" y="386" width="6.5" height="47" fill="#fff" stroke="#1c1c1c" stroke-width="1" />
<path d="M559.5,207 Q554,207 554,216.5 Q554,226 559.5,226" fill="none" stroke="#1c1c1c" stroke-width="1" />
<path d="M559.5,331.6 Q554,331.6 554,337.3 Q554,343 559.5,343" fill="none" stroke="#1c1c1c" stroke-width="1" />
<line x1="555" y1="141.5" x2="555" y2="207" stroke="#1c1c1c" stroke-width="0.9" />
<line x1="558" y1="141.5" x2="558" y2="207" stroke="#1c1c1c" stroke-width="0.9" />
<line x1="561.8" y1="141.5" x2="561.8" y2="175" stroke="#1c1c1c" stroke-width="0.9" />
<rect x="540" y="348" width="22" height="44" rx="3" fill="url(#hFt)" stroke="#1c1c1c" stroke-width="1"/>
<rect x="530" y="415" width="33.6" height="18" fill="#fff" stroke="#1c1c1c" stroke-width="1" />
<line x1="556" y1="415" x2="556" y2="433" stroke="#1c1c1c" stroke-width="0.9" />
<line x1="553" y1="392" x2="553" y2="415" stroke="#1c1c1c" stroke-width="0.8" />
<line x1="558" y1="392" x2="558" y2="415" stroke="#1c1c1c" stroke-width="0.8" />
<path d="M565,127.8 A155,155 0 0 1 565,434.2 L569,433 L569,358 L571,358 L571,204.6 L579,204.6 L579,165 L569,165 L569,128 Z" fill="url(#hF)" stroke="#1c1c1c" stroke-width="1.4" />
<rect x="569.5" y="165" width="9.5" height="39.6" fill="#fff" stroke="#1c1c1c" stroke-width="1" />
<rect x="579" y="199" width="82.6" height="5.6" fill="url(#hFt)" stroke="#1c1c1c" stroke-width="1" />
<path d="M568.8,358 L568.8,209 Q568.8,204.6 573,204.6 L657,204.6 Q661.5,204.6 661.5,209 L661.5,358 Z" fill="none" stroke="#1c1c1c" stroke-width="1.2" />
<rect x="572" y="207" width="25" height="151" fill="url(#hBc)" stroke="#1c1c1c" stroke-width="1.1" />
<rect x="597" y="207" width="26" height="151" fill="url(#hBc)" stroke="#1c1c1c" stroke-width="1.1" />
<rect x="628" y="207" width="13" height="151" fill="url(#hBc)" stroke="#1c1c1c" stroke-width="1.1" />
<rect x="641" y="207" width="13.700000000000045" height="151" fill="url(#hBc)" stroke="#1c1c1c" stroke-width="1.1" />
<rect x="623" y="207" width="5" height="151" fill="#fff" stroke="#1c1c1c" stroke-width="0.9" />
<rect x="654.7" y="207" width="5.5" height="151" fill="#fff" stroke="#1c1c1c" stroke-width="0.9" />
<line x1="569" y1="358" x2="662" y2="358" stroke="#1c1c1c" stroke-width="1.3" />
<path d="M671,270.5 L695.5,270.5 L695.5,289.5 L671,289.5 Z" fill="#fff" stroke="#1c1c1c" stroke-width="1.1" />
<rect x="687.5" y="272" width="8" height="16" fill="#fff" stroke="#1c1c1c" stroke-width="0.9" />
<line x1="687.5" y1="276" x2="695.5" y2="276" stroke="#1c1c1c" stroke-width="0.8" />
<line x1="687.5" y1="280" x2="695.5" y2="280" stroke="#1c1c1c" stroke-width="0.8" />
<line x1="687.5" y1="284" x2="695.5" y2="284" stroke="#1c1c1c" stroke-width="0.8" />
<path d="M674,270.5 L677,266.5 L680,270.5 L683,266.5 L686,270.5 L689,266.5 L692,270.5" fill="#fff" stroke="#1c1c1c" stroke-width="1" />
<path d="M674,289.5 L677,292.5 L680,289.5 L683,292.5 L686,289.5 L689,292.5 L692,289.5" fill="#fff" stroke="#1c1c1c" stroke-width="1" />
<path d="M673,271 L677,280 L673,289 M687.5,271 L684,280 L687.5,289" fill="none" stroke="#1c1c1c" stroke-width="1" />
<circle cx="666" cy="279.5" r="7.7" fill="#fff" stroke="#1c1c1c" stroke-width="1.1"/>
<g transform="translate(58.8,86) rotate(90)"><path d="M3.91,0 L3.91,-11.81 L1.08,-9.21" fill="none" stroke="#2a2a2a" stroke-width="1.25" stroke-linejoin="miter"/><path d="M10.66,0 L10.66,-11.81 L7.83,-9.21" fill="none" stroke="#2a2a2a" stroke-width="1.25" stroke-linejoin="miter"/><text transform="translate(13.50,0) scale(0.736,1)" font-family="Liberation Sans" font-size="16.5" fill="#2a2a2a">8</text></g>
<g transform="translate(275.3,35.3) rotate(90)"><path d="M3.91,0 L3.91,-11.81 L1.08,-9.21" fill="none" stroke="#2a2a2a" stroke-width="1.25" stroke-linejoin="miter"/><path d="M10.66,0 L10.66,-11.81 L7.83,-9.21" fill="none" stroke="#2a2a2a" stroke-width="1.25" stroke-linejoin="miter"/><text transform="translate(13.50,0) scale(0.736,1)" font-family="Liberation Sans" font-size="16.5" fill="#2a2a2a">4</text></g>
<g transform="translate(318.8,46) rotate(90)"><path d="M3.91,0 L3.91,-11.81 L1.08,-9.21" fill="none" stroke="#2a2a2a" stroke-width="1.25" stroke-linejoin="miter"/><path d="M10.66,0 L10.66,-11.81 L7.83,-9.21" fill="none" stroke="#2a2a2a" stroke-width="1.25" stroke-linejoin="miter"/><text transform="translate(13.50,0) scale(0.736,1)" font-family="Liberation Sans" font-size="16.5" fill="#2a2a2a">6</text></g>
<g transform="translate(390.8,55) rotate(90)"><path d="M3.91,0 L3.91,-11.81 L1.08,-9.21" fill="none" stroke="#2a2a2a" stroke-width="1.25" stroke-linejoin="miter"/><path d="M10.66,0 L10.66,-11.81 L7.83,-9.21" fill="none" stroke="#2a2a2a" stroke-width="1.25" stroke-linejoin="miter"/><text transform="translate(13.50,0) scale(0.736,1)" font-family="Liberation Sans" font-size="16.5" fill="#2a2a2a">2</text></g>
<g transform="translate(456.8,47.6) rotate(90)"><path d="M3.91,0 L3.91,-11.81 L1.08,-9.21" fill="none" stroke="#2a2a2a" stroke-width="1.25" stroke-linejoin="miter"/><path d="M10.66,0 L10.66,-11.81 L7.83,-9.21" fill="none" stroke="#2a2a2a" stroke-width="1.25" stroke-linejoin="miter"/><path d="M17.41,0 L17.41,-11.81 L14.58,-9.21" fill="none" stroke="#2a2a2a" stroke-width="1.25" stroke-linejoin="miter"/></g>
<g transform="translate(528.8,68.4) rotate(90)"><path d="M3.91,0 L3.91,-11.81 L1.08,-9.21" fill="none" stroke="#2a2a2a" stroke-width="1.25" stroke-linejoin="miter"/><path d="M10.66,0 L10.66,-11.81 L7.83,-9.21" fill="none" stroke="#2a2a2a" stroke-width="1.25" stroke-linejoin="miter"/><text transform="translate(13.50,0) scale(0.736,1)" font-family="Liberation Sans" font-size="16.5" fill="#2a2a2a">0</text></g>
<g transform="translate(591.1999999999999,47.6) rotate(90)"><path d="M3.91,0 L3.91,-11.81 L1.08,-9.21" fill="none" stroke="#2a2a2a" stroke-width="1.25" stroke-linejoin="miter"/><text transform="translate(6.75,0) scale(0.736,1)" font-family="Liberation Sans" font-size="16.5" fill="#2a2a2a">0</text><text transform="translate(13.50,0) scale(0.736,1)" font-family="Liberation Sans" font-size="16.5" fill="#2a2a2a">8</text></g>
<g transform="translate(664.8,95.6) rotate(90)"><path d="M3.91,0 L3.91,-11.81 L1.08,-9.21" fill="none" stroke="#2a2a2a" stroke-width="1.25" stroke-linejoin="miter"/><text transform="translate(6.75,0) scale(0.736,1)" font-family="Liberation Sans" font-size="16.5" fill="#2a2a2a">0</text><text transform="translate(13.50,0) scale(0.736,1)" font-family="Liberation Sans" font-size="16.5" fill="#2a2a2a">6</text></g>
<g transform="translate(644.8,458) rotate(90)"><path d="M3.91,0 L3.91,-11.81 L1.08,-9.21" fill="none" stroke="#2a2a2a" stroke-width="1.25" stroke-linejoin="miter"/><text transform="translate(6.75,0) scale(0.736,1)" font-family="Liberation Sans" font-size="16.5" fill="#2a2a2a">0</text><text transform="translate(13.50,0) scale(0.736,1)" font-family="Liberation Sans" font-size="16.5" fill="#2a2a2a">2</text></g>
<g transform="translate(426.40000000000003,468) rotate(90)"><path d="M3.91,0 L3.91,-11.81 L1.08,-9.21" fill="none" stroke="#2a2a2a" stroke-width="1.25" stroke-linejoin="miter"/><text transform="translate(6.75,0) scale(0.736,1)" font-family="Liberation Sans" font-size="16.5" fill="#2a2a2a">0</text><text transform="translate(13.50,0) scale(0.736,1)" font-family="Liberation Sans" font-size="16.5" fill="#2a2a2a">4</text></g>
<g transform="translate(701.8,399) rotate(90)"><path d="M3.91,0 L3.91,-11.81 L1.08,-9.21" fill="none" stroke="#2a2a2a" stroke-width="1.25" stroke-linejoin="miter"/><text transform="translate(6.75,0) scale(0.736,1)" font-family="Liberation Sans" font-size="16.5" fill="#2a2a2a">0</text><text transform="translate(13.50,0) scale(0.736,1)" font-family="Liberation Sans" font-size="16.5" fill="#2a2a2a">0</text></g>
<line x1="698.5" y1="399" x2="698.5" y2="419" stroke="#333" stroke-width="1.1" />
<path d="M65,110 Q57,140 58,180 Q58,210 45,228" fill="none" stroke="#333" stroke-width="0.8" />
<path d="M279,59 Q276,90 281,120 Q286,160 272,215" fill="none" stroke="#333" stroke-width="0.8" />
<path d="M322,69 Q313,85 317,100 Q325,120 322,160" fill="none" stroke="#333" stroke-width="0.8" />
<path d="M395,78 Q398,110 412,131 L412,146" fill="none" stroke="#333" stroke-width="0.8" />
<path d="M462.4,71.6 Q458,100 466,120 Q462,135 457,148" fill="none" stroke="#333" stroke-width="0.8" />
<path d="M534.4,94 L534,128 Q532,150 518,165 Q509,180 510,200" fill="none" stroke="#333" stroke-width="0.8" />
<path d="M598.4,70 L598.4,93 Q598,108 585,118 Q572,130 568.5,141" fill="none" stroke="#333" stroke-width="0.8" />
<path d="M671,118 L671,140 Q670,150 655,156 Q640,165 637,200" fill="none" stroke="#333" stroke-width="0.8" />
<path d="M640,466.4 Q620,455 622,440 Q624,420 608,407" fill="none" stroke="#333" stroke-width="0.8" />
<path d="M421.6,476 Q410,462 412,450 Q414,440 411.6,430" fill="none" stroke="#333" stroke-width="0.8" />
<g transform="translate(160,615)"><text transform="translate(0.00,0) scale(0.770,1)" font-family="Liberation Sans" font-size="15.8" fill="#333">2</text><text transform="translate(6.76,0) scale(0.770,1)" font-family="Liberation Sans" font-size="15.8" fill="#333">0</text><text transform="translate(13.53,0) scale(0.770,1)" font-family="Liberation Sans" font-size="15.8" fill="#333">2</text></g>
<g transform="translate(66,785)"><text transform="translate(0.00,0) scale(0.770,1)" font-family="Liberation Sans" font-size="15.8" fill="#333">2</text><text transform="translate(6.76,0) scale(0.770,1)" font-family="Liberation Sans" font-size="15.8" fill="#333">0</text><path d="M17.45,0 L17.45,-11.31 L14.61,-8.82" fill="none" stroke="#333" stroke-width="1.15" stroke-linejoin="miter"/></g>
<g transform="translate(317,621)"><text transform="translate(0.00,0) scale(0.770,1)" font-family="Liberation Sans" font-size="15.8" fill="#333">2</text><text transform="translate(6.76,0) scale(0.770,1)" font-family="Liberation Sans" font-size="15.8" fill="#333">0</text><text transform="translate(13.53,0) scale(0.770,1)" font-family="Liberation Sans" font-size="15.8" fill="#333">4</text></g>
<g transform="translate(386,618)"><text transform="translate(0.00,0) scale(0.770,1)" font-family="Liberation Sans" font-size="15.8" fill="#333">2</text><text transform="translate(6.76,0) scale(0.770,1)" font-family="Liberation Sans" font-size="15.8" fill="#333">0</text><text transform="translate(13.53,0) scale(0.770,1)" font-family="Liberation Sans" font-size="15.8" fill="#333">5</text></g>
<g transform="translate(426,647)"><text transform="translate(0.00,0) scale(0.770,1)" font-family="Liberation Sans" font-size="15.8" fill="#333">2</text><text transform="translate(6.76,0) scale(0.770,1)" font-family="Liberation Sans" font-size="15.8" fill="#333">0</text><text transform="translate(13.53,0) scale(0.770,1)" font-family="Liberation Sans" font-size="15.8" fill="#333">6</text></g>
<g transform="translate(496,642)"><text transform="translate(0.00,0) scale(0.770,1)" font-family="Liberation Sans" font-size="15.8" fill="#333">2</text><text transform="translate(6.76,0) scale(0.770,1)" font-family="Liberation Sans" font-size="15.8" fill="#333">0</text><text transform="translate(13.53,0) scale(0.770,1)" font-family="Liberation Sans" font-size="15.8" fill="#333">7</text></g>
<g transform="translate(335,800)"><text transform="translate(0.00,0) scale(0.770,1)" font-family="Liberation Sans" font-size="15.8" fill="#333">2</text><text transform="translate(6.76,0) scale(0.770,1)" font-family="Liberation Sans" font-size="15.8" fill="#333">0</text><text transform="translate(13.53,0) scale(0.770,1)" font-family="Liberation Sans" font-size="15.8" fill="#333">3</text></g>
<g transform="translate(659,599)"><text transform="translate(0.00,0) scale(0.770,1)" font-family="Liberation Sans" font-size="15.8" fill="#333">2</text><text transform="translate(6.76,0) scale(0.770,1)" font-family="Liberation Sans" font-size="15.8" fill="#333">0</text><text transform="translate(13.53,0) scale(0.770,1)" font-family="Liberation Sans" font-size="15.8" fill="#333">8</text></g>
<g transform="translate(698,678)"><text transform="translate(0.00,0) scale(0.770,1)" font-family="Liberation Sans" font-size="15.8" fill="#333">2</text><path d="M10.69,0 L10.69,-11.31 L7.85,-8.82" fill="none" stroke="#333" stroke-width="1.15" stroke-linejoin="miter"/><path d="M17.45,0 L17.45,-11.31 L14.61,-8.82" fill="none" stroke="#333" stroke-width="1.15" stroke-linejoin="miter"/></g>
<g transform="translate(680,865)"><text transform="translate(0.00,0) scale(0.770,1)" font-family="Liberation Sans" font-size="15.8" fill="#333">2</text><text transform="translate(6.76,0) scale(0.770,1)" font-family="Liberation Sans" font-size="15.8" fill="#333">0</text><text transform="translate(13.53,0) scale(0.770,1)" font-family="Liberation Sans" font-size="15.8" fill="#333">9</text></g>
<text x="679.6" y="644.3" font-family="Liberation Serif" font-size="16" fill="#2a2a2a" stroke="#2a2a2a" stroke-width="0.35">216</text>
<path d="M97.5,686.8 A10.5,10.5 0 0 1 87.9,701.4 A10.2,10.2 0 0 1 72.6,709.0 A10.1,10.1 0 0 1 55.9,707.4 A10.3,10.3 0 0 1 42.1,697.2 A10.6,10.6 0 0 1 35.0,681.0 A10.7,10.7 0 0 1 36.5,663.2 A10.5,10.5 0 0 1 46.1,648.6 A10.2,10.2 0 0 1 61.4,641.0 A10.1,10.1 0 0 1 78.1,642.6 A10.3,10.3 0 0 1 91.9,652.8 A10.6,10.6 0 0 1 99.0,669.0 A10.7,10.7 0 0 1 97.5,686.8 Z" fill="#fff" stroke="#3a3a3a" stroke-width="1.1" />
<path d="M103,666 L143,666 Q153,666 153,678.5 Q153,691 143,691 L103,691 Q100,678 103,666 Z" fill="#fff" stroke="#3a3a3a" stroke-width="1.1" />
<rect x="115" y="666.5" width="3.3" height="24" fill="#9a9a9a"/><rect x="129.5" y="666.5" width="2.8" height="24" fill="#9a9a9a"/>
<line x1="109.5" y1="666" x2="109.5" y2="691" stroke="#444" stroke-width="0.9" />
<line x1="113.6" y1="666" x2="113.6" y2="691" stroke="#444" stroke-width="0.9" />
<line x1="118.3" y1="666" x2="118.3" y2="691" stroke="#444" stroke-width="0.8" />
<line x1="127.2" y1="666" x2="127.2" y2="691" stroke="#444" stroke-width="0.9" />
<line x1="132.3" y1="666" x2="132.3" y2="691" stroke="#444" stroke-width="0.8" />
<line x1="140.7" y1="666" x2="140.7" y2="691" stroke="#444" stroke-width="1.0" />
<circle cx="134.5" cy="674" r="1" fill="#333"/><circle cx="134.5" cy="684.5" r="1" fill="#333"/>
<line x1="154" y1="680" x2="320" y2="692.3" stroke="#333" stroke-width="1.2" stroke-dasharray="3,2.2"/>
<path d="M327,693 L316,687.5 L319,692.8 L315.5,698.5 Z" fill="#2a2a2a" stroke="#2a2a2a" stroke-width="0.5" />
<line x1="410" y1="697.5" x2="478" y2="703" stroke="#333" stroke-width="1.2" stroke-dasharray="3,2.2"/>
<path d="M486.5,703.5 L475.5,698 L478.5,703.3 L475,709 Z" fill="#2a2a2a" stroke="#2a2a2a" stroke-width="0.5" />
<path d="M334,682.5 L361,682.5 L361,705 L334,705 Q329.5,694 334,682.5 Z" fill="#fff" stroke="#3a3a3a" stroke-width="1.1" />
<rect x="347" y="683" width="3" height="21.5" fill="#9a9a9a"/><rect x="353" y="683" width="2.5" height="21.5" fill="#9a9a9a"/>
<line x1="343" y1="682.5" x2="343" y2="705" stroke="#444" stroke-width="0.85" />
<line x1="346.5" y1="682.5" x2="346.5" y2="705" stroke="#444" stroke-width="0.85" />
<line x1="350.5" y1="682.5" x2="350.5" y2="705" stroke="#444" stroke-width="0.85" />
<line x1="352.5" y1="682.5" x2="352.5" y2="705" stroke="#444" stroke-width="0.85" />
<line x1="356" y1="682.5" x2="356" y2="705" stroke="#444" stroke-width="0.85" />
<path d="M363,679.6 L371,678.6 L385,686.8 L385,704.8 L371,710.8 L363,709.6 Z" fill="#fff" stroke="#3a3a3a" stroke-width="1.1" />
<rect x="364.6" y="686.8" width="19.2" height="18" fill="#fff" stroke="#1c1c1c" stroke-width="0.9" stroke="#444"/>
<line x1="369.4" y1="686.8" x2="369.4" y2="704.8" stroke="#555" stroke-width="0.8" />
<line x1="371.8" y1="686.8" x2="371.8" y2="704.8" stroke="#555" stroke-width="0.8" />
<path d="M364,679.5 L373,678.5 L375,683.5 L366,684.5 Z" fill="#888" stroke="#555" stroke-width="0.6" />
<path d="M364,709.5 L373,710.5 L375,705.5 L366,704.5 Z" fill="#aaa" stroke="#555" stroke-width="0.6" />
<path d="M372,681 L383,687 M372,708 L383,703" fill="none" stroke="#555" stroke-width="0.7" />
<path d="M386.2,686.8 L391,685.6 L397,685.6 Q409,687 409,696.4 Q409,706 397,707.2 L391,707.2 L386.2,706 Z" fill="#fff" stroke="#3a3a3a" stroke-width="1.1" />
<line x1="391" y1="685.6" x2="391" y2="707.2" stroke="#444" stroke-width="0.8" />
<line x1="398.2" y1="686" x2="398.2" y2="707" stroke="#555" stroke-width="0.7" />
<circle cx="393.5" cy="692" r="0.8" fill="#333"/><circle cx="393.5" cy="701" r="0.8" fill="#333"/>
<path d="M492,693.5 L521,693.5 L521,716 L492,716 Q487,704.7 492,693.5 Z" fill="#fff" stroke="#3a3a3a" stroke-width="1.1" />
<rect x="506" y="694" width="3" height="21.5" fill="#9a9a9a"/><rect x="513" y="694" width="3" height="21.5" fill="#9a9a9a"/>
<line x1="503" y1="693.5" x2="503" y2="716" stroke="#444" stroke-width="0.85" />
<line x1="506" y1="693.5" x2="506" y2="716" stroke="#444" stroke-width="0.85" />
<line x1="509.5" y1="693.5" x2="509.5" y2="716" stroke="#444" stroke-width="0.85" />
<line x1="512.5" y1="693.5" x2="512.5" y2="716" stroke="#444" stroke-width="0.85" />
<line x1="516" y1="693.5" x2="516" y2="716" stroke="#444" stroke-width="0.85" />
<line x1="519" y1="693.5" x2="519" y2="716" stroke="#444" stroke-width="0.85" />
<path d="M170,620 Q168,640 150,650 Q140,655 138,667" fill="none" stroke="#444" stroke-width="0.85" stroke-dasharray="2,1"/>
<path d="M329,624 L329,650 Q330,655 340,658 Q343,660 343,682" fill="none" stroke="#444" stroke-width="0.85" stroke-dasharray="2,1"/>
<path d="M395,621 L395,648 Q393,655 380,660 Q377,664 377,680" fill="none" stroke="#444" stroke-width="0.85" stroke-dasharray="2,1"/>
<path d="M436.5,650 Q434,665 420,672 Q412,677 406,688" fill="none" stroke="#444" stroke-width="0.85" stroke-dasharray="2,1"/>
<path d="M508.6,645 L508.6,668 Q508,674 498,680 L497,693" fill="none" stroke="#444" stroke-width="0.85" stroke-dasharray="2,1"/>
<path d="M656,594 Q645,596 640,604 Q638,612 630,616 Q624,622 619,631" fill="none" stroke="#444" stroke-width="0.85" stroke-dasharray="2,1"/>
<path d="M675,639.5 Q640,640 630,655 Q625,668 616,673" fill="none" stroke="#444" stroke-width="0.85" stroke-dasharray="2,1"/>
<path d="M706.6,681 Q705,695 690,700 Q675,702 668,706" fill="none" stroke="#444" stroke-width="0.85" stroke-dasharray="2,1"/>
<path d="M691,849 Q688,830 686,815 Q685,805 684,795" fill="none" stroke="#444" stroke-width="0.85" stroke-dasharray="2,1"/>
<path d="M76,767 Q76,745 90,735 Q100,728 103,718" fill="none" stroke="#444" stroke-width="0.9" stroke-dasharray="2.5,1.5"/>
<path d="M105.5,711 L99.5,719.5 L103.5,718 L107.5,721 Z" fill="#2a2a2a" stroke="#2a2a2a" stroke-width="0.5" />
<path d="M346,786 Q346,765 358,752 Q368,742 369.5,730" fill="none" stroke="#444" stroke-width="0.9" stroke-dasharray="2.5,1.5"/>
<path d="M371,723 L366,731.5 L370,730 L374,733 Z" fill="#2a2a2a" stroke="#2a2a2a" stroke-width="0.5" />
<path d="M575.3,603.4 Q590,600 600,610 Q612,618 615.6,630 Q613,645 614,657 Q617,668 615.6,676 Q613,688 613,697.5 Q611,707 611.6,716 Q610,732 607.6,746 Q604,756 603.5,765 Q602,782 599.5,794 Q597,805 592.8,810 Q586,818 579.4,818.5 Q566,812 556.5,802 Q550,790 551,778 Q552,767 551,757 Q546,745 547,730 Q546,720 547,711 Q549,700 555,692 Q560,682 560.5,670.6 Q561,657 562,644 Q562,632 564.6,622 Q568,608 575.3,603.4 Z" fill="#fff" stroke="#333" stroke-width="1.2" stroke-dasharray="2,0.7"/>
<path d="M575,604 Q578,625 576,645 Q573,665 578,685 Q581,705 576,725 Q571,745 576,770 Q580,795 578,818" fill="none" stroke="#444" stroke-width="0.95" stroke-dasharray="2,0.7"/>
<path d="M585,606 Q590,630 587,655 Q585,675 592,700 Q595,720 588,745 Q585,770 592,795 Q594,810 590,815" fill="none" stroke="#444" stroke-width="0.95" stroke-dasharray="2,0.7"/>
<path d="M564,622 Q590,618 600,630 Q607,640 615,640" fill="none" stroke="#444" stroke-width="0.95" stroke-dasharray="2,0.7"/>
<path d="M562,656 Q585,660 600,664 Q608,666 614,664" fill="none" stroke="#444" stroke-width="0.95" stroke-dasharray="2,0.7"/>
<path d="M556,690 Q570,684 580,692 Q595,705 612,704" fill="none" stroke="#444" stroke-width="0.95" stroke-dasharray="2,0.7"/>
<path d="M547,718 Q565,712 580,722 Q595,730 608,728" fill="none" stroke="#444" stroke-width="0.95" stroke-dasharray="2,0.7"/>
<path d="M551,760 Q570,752 588,758 Q598,760 604,764" fill="none" stroke="#444" stroke-width="0.95" stroke-dasharray="2,0.7"/>
<path d="M553,790 Q565,774 582,776 Q594,778 600,786" fill="none" stroke="#444" stroke-width="0.95" stroke-dasharray="2,0.7"/>
<rect x="590" y="602" width="20" height="10" rx="2" fill="#fff" stroke="#444" stroke-width="0.9" transform="rotate(-8 600.0 607.0)"/>
<line x1="594" y1="603" x2="594" y2="611" stroke="#666" stroke-width="0.6" />
<line x1="596" y1="603" x2="596" y2="611" stroke="#666" stroke-width="0.6" />
<rect x="589" y="671" width="20" height="12" rx="2" fill="#fff" stroke="#444" stroke-width="0.9" transform="rotate(-4 599.0 677.0)"/>
<line x1="593" y1="672" x2="593" y2="682" stroke="#666" stroke-width="0.6" />
<line x1="595" y1="672" x2="595" y2="682" stroke="#666" stroke-width="0.6" />
<rect x="582" y="734" width="21" height="12" rx="2" fill="#fff" stroke="#444" stroke-width="0.9" transform="rotate(6 592.5 740.0)"/>
<line x1="586" y1="735" x2="586" y2="745" stroke="#666" stroke-width="0.6" />
<line x1="588" y1="735" x2="588" y2="745" stroke="#666" stroke-width="0.6" />
<rect x="578" y="808" width="22" height="10" rx="2" fill="#fff" stroke="#444" stroke-width="0.9" transform="rotate(-8 589.0 813.0)"/>
<line x1="582" y1="809" x2="582" y2="817" stroke="#666" stroke-width="0.6" />
<line x1="584" y1="809" x2="584" y2="817" stroke="#666" stroke-width="0.6" />
<path d="M646,702 L657,702 Q669,703 669,713.5 Q669,724 657,725 L646,725 Q644,713.5 646,702 Z" fill="#fff" stroke="#3a3a3a" stroke-width="1.1" />
<line x1="650" y1="703" x2="650" y2="724" stroke="#555" stroke-width="0.7" />
<line x1="659" y1="703" x2="659" y2="724" stroke="#555" stroke-width="0.7" />
<circle cx="653" cy="709" r="0.8" fill="#333"/><circle cx="664" cy="710" r="0.8" fill="#333"/>
<path d="M645,742.5 Q660,740 676,740.5 Q695,738 708,741 Q695,744 676,743 Q660,745 645,742.5 Z" fill="#fff" stroke="#333" stroke-width="1" />
<path d="M641,791.5 Q660,788 671,790 Q690,788 702,790.5 Q690,794 671,792.5 Q660,795 641,791.5 Z" fill="#fff" stroke="#333" stroke-width="1" />
<ellipse cx="618" cy="763" rx="3.5" ry="7" fill="#fff" stroke="#333" stroke-width="1"/>
<ellipse cx="617" cy="778" rx="4" ry="9" fill="#fff" stroke="#333" stroke-width="1"/>
<ellipse cx="731" cy="756" rx="3.5" ry="7" fill="#fff" stroke="#333" stroke-width="1"/>
<ellipse cx="731" cy="774" rx="4" ry="8.5" fill="#fff" stroke="#333" stroke-width="1"/>
<path d="M620,777 L662,773.5 L662,777 L620,780 Z" fill="#fff" stroke="#333" stroke-width="0.9" />
<path d="M689,770 L728,769.5 L728,772.5 L689,773.5 Z" fill="#fff" stroke="#333" stroke-width="0.9" />
<path d="M673,744 L679,744 L680,752 L682,756 L680,764 L674,764 L672,756 L674,752 Z" fill="#fff" stroke="#333" stroke-width="0.9" />
<path d="M661,774 L667,766 L688,764 L690,772 L684,784 L664,787 Z" fill="#fff" stroke="#333" stroke-width="1" />
<path d="M667,766 L668,772 L686,771 L688,764 M668,772 L664,787" fill="none" stroke="#333" stroke-width="0.8" />
<rect x="669" y="764.5" width="16" height="5" fill="#fff" stroke="#1c1c1c" stroke-width="0.8" stroke="#333"/>
<path d="M656,788 L662,783 L672,786 L690,782 L694,788" fill="none" stroke="#333" stroke-width="0.8" />
<path d="M668,792 L676,792 L675,799 L673,800 L673,810 L671,810 L671,800 L669,799 Z" fill="#fff" stroke="#333" stroke-width="0.9" /></svg></body></html>
